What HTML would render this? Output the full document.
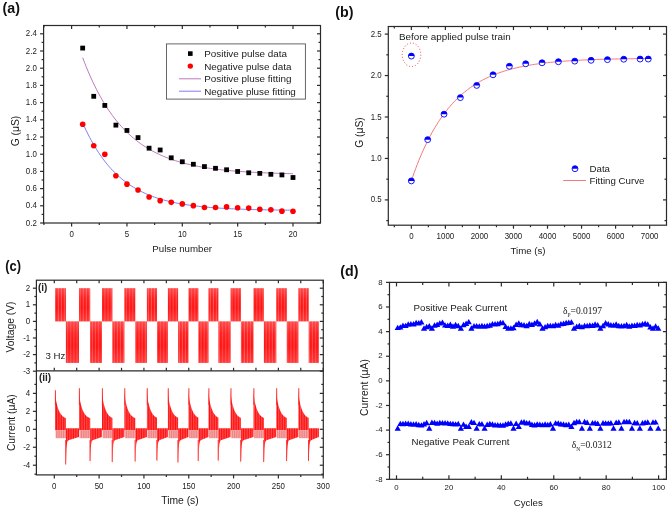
<!DOCTYPE html>
<html><head><meta charset="utf-8"><style>
html,body{margin:0;padding:0;background:#fff;}
body{width:669px;height:511px;overflow:hidden;}
svg{display:block;will-change:transform;filter:blur(0.3px);}

</style></head><body>
<svg width="669" height="511" viewBox="0 0 669 511">
<rect width="669" height="511" fill="#fff"/>
<text x="0" y="0" transform="translate(2.6,13.4) scale(0.95,1)" font-family="Liberation Sans" font-size="15" font-weight="bold" fill="#111">(a)</text>
<text x="0" y="0" transform="translate(335.3,16.8) scale(0.95,1)" font-family="Liberation Sans" font-size="15" font-weight="bold" fill="#111">(b)</text>
<text x="0" y="0" transform="translate(5.3,270.6) scale(0.86,1)" font-family="Liberation Sans" font-size="15" font-weight="bold" fill="#111">(c)</text>
<text x="0" y="0" transform="translate(340.3,276) scale(0.95,1)" font-family="Liberation Sans" font-size="15" font-weight="bold" fill="#111">(d)</text>
<rect x="43.6" y="25.5" width="276.9" height="197.5" fill="none" stroke="#2a2a2a" stroke-width="1.2"/>
<line x1="40.1" y1="223" x2="43.6" y2="223" stroke="#2a2a2a" stroke-width="1.2" />
<line x1="317" y1="223" x2="320.5" y2="223" stroke="#2a2a2a" stroke-width="1.2" />
<text x="0" y="0" transform="translate(36.8,225.5) scale(0.93,1)" font-family="Liberation Sans" font-size="8.5" font-weight="normal" text-anchor="end" fill="#1a1a1a" >0.2</text>
<line x1="41.6" y1="214.4" x2="43.6" y2="214.4" stroke="#2a2a2a" stroke-width="1.2" />
<line x1="318.5" y1="214.4" x2="320.5" y2="214.4" stroke="#2a2a2a" stroke-width="1.2" />
<line x1="40.1" y1="205.8" x2="43.6" y2="205.8" stroke="#2a2a2a" stroke-width="1.2" />
<line x1="317" y1="205.8" x2="320.5" y2="205.8" stroke="#2a2a2a" stroke-width="1.2" />
<text x="0" y="0" transform="translate(36.8,208.3) scale(0.93,1)" font-family="Liberation Sans" font-size="8.5" font-weight="normal" text-anchor="end" fill="#1a1a1a" >0.4</text>
<line x1="41.6" y1="197.2" x2="43.6" y2="197.2" stroke="#2a2a2a" stroke-width="1.2" />
<line x1="318.5" y1="197.2" x2="320.5" y2="197.2" stroke="#2a2a2a" stroke-width="1.2" />
<line x1="40.1" y1="188.6" x2="43.6" y2="188.6" stroke="#2a2a2a" stroke-width="1.2" />
<line x1="317" y1="188.6" x2="320.5" y2="188.6" stroke="#2a2a2a" stroke-width="1.2" />
<text x="0" y="0" transform="translate(36.8,191.1) scale(0.93,1)" font-family="Liberation Sans" font-size="8.5" font-weight="normal" text-anchor="end" fill="#1a1a1a" >0.6</text>
<line x1="41.6" y1="180" x2="43.6" y2="180" stroke="#2a2a2a" stroke-width="1.2" />
<line x1="318.5" y1="180" x2="320.5" y2="180" stroke="#2a2a2a" stroke-width="1.2" />
<line x1="40.1" y1="171.4" x2="43.6" y2="171.4" stroke="#2a2a2a" stroke-width="1.2" />
<line x1="317" y1="171.4" x2="320.5" y2="171.4" stroke="#2a2a2a" stroke-width="1.2" />
<text x="0" y="0" transform="translate(36.8,173.9) scale(0.93,1)" font-family="Liberation Sans" font-size="8.5" font-weight="normal" text-anchor="end" fill="#1a1a1a" >0.8</text>
<line x1="41.6" y1="162.8" x2="43.6" y2="162.8" stroke="#2a2a2a" stroke-width="1.2" />
<line x1="318.5" y1="162.8" x2="320.5" y2="162.8" stroke="#2a2a2a" stroke-width="1.2" />
<line x1="40.1" y1="154.2" x2="43.6" y2="154.2" stroke="#2a2a2a" stroke-width="1.2" />
<line x1="317" y1="154.2" x2="320.5" y2="154.2" stroke="#2a2a2a" stroke-width="1.2" />
<text x="0" y="0" transform="translate(36.8,156.7) scale(0.93,1)" font-family="Liberation Sans" font-size="8.5" font-weight="normal" text-anchor="end" fill="#1a1a1a" >1.0</text>
<line x1="41.6" y1="145.6" x2="43.6" y2="145.6" stroke="#2a2a2a" stroke-width="1.2" />
<line x1="318.5" y1="145.6" x2="320.5" y2="145.6" stroke="#2a2a2a" stroke-width="1.2" />
<line x1="40.1" y1="137" x2="43.6" y2="137" stroke="#2a2a2a" stroke-width="1.2" />
<line x1="317" y1="137" x2="320.5" y2="137" stroke="#2a2a2a" stroke-width="1.2" />
<text x="0" y="0" transform="translate(36.8,139.5) scale(0.93,1)" font-family="Liberation Sans" font-size="8.5" font-weight="normal" text-anchor="end" fill="#1a1a1a" >1.2</text>
<line x1="41.6" y1="128.4" x2="43.6" y2="128.4" stroke="#2a2a2a" stroke-width="1.2" />
<line x1="318.5" y1="128.4" x2="320.5" y2="128.4" stroke="#2a2a2a" stroke-width="1.2" />
<line x1="40.1" y1="119.8" x2="43.6" y2="119.8" stroke="#2a2a2a" stroke-width="1.2" />
<line x1="317" y1="119.8" x2="320.5" y2="119.8" stroke="#2a2a2a" stroke-width="1.2" />
<text x="0" y="0" transform="translate(36.8,122.3) scale(0.93,1)" font-family="Liberation Sans" font-size="8.5" font-weight="normal" text-anchor="end" fill="#1a1a1a" >1.4</text>
<line x1="41.6" y1="111.2" x2="43.6" y2="111.2" stroke="#2a2a2a" stroke-width="1.2" />
<line x1="318.5" y1="111.2" x2="320.5" y2="111.2" stroke="#2a2a2a" stroke-width="1.2" />
<line x1="40.1" y1="102.6" x2="43.6" y2="102.6" stroke="#2a2a2a" stroke-width="1.2" />
<line x1="317" y1="102.6" x2="320.5" y2="102.6" stroke="#2a2a2a" stroke-width="1.2" />
<text x="0" y="0" transform="translate(36.8,105.1) scale(0.93,1)" font-family="Liberation Sans" font-size="8.5" font-weight="normal" text-anchor="end" fill="#1a1a1a" >1.6</text>
<line x1="41.6" y1="94" x2="43.6" y2="94" stroke="#2a2a2a" stroke-width="1.2" />
<line x1="318.5" y1="94" x2="320.5" y2="94" stroke="#2a2a2a" stroke-width="1.2" />
<line x1="40.1" y1="85.4" x2="43.6" y2="85.4" stroke="#2a2a2a" stroke-width="1.2" />
<line x1="317" y1="85.4" x2="320.5" y2="85.4" stroke="#2a2a2a" stroke-width="1.2" />
<text x="0" y="0" transform="translate(36.8,87.9) scale(0.93,1)" font-family="Liberation Sans" font-size="8.5" font-weight="normal" text-anchor="end" fill="#1a1a1a" >1.8</text>
<line x1="41.6" y1="76.8" x2="43.6" y2="76.8" stroke="#2a2a2a" stroke-width="1.2" />
<line x1="318.5" y1="76.8" x2="320.5" y2="76.8" stroke="#2a2a2a" stroke-width="1.2" />
<line x1="40.1" y1="68.2" x2="43.6" y2="68.2" stroke="#2a2a2a" stroke-width="1.2" />
<line x1="317" y1="68.2" x2="320.5" y2="68.2" stroke="#2a2a2a" stroke-width="1.2" />
<text x="0" y="0" transform="translate(36.8,70.7) scale(0.93,1)" font-family="Liberation Sans" font-size="8.5" font-weight="normal" text-anchor="end" fill="#1a1a1a" >2.0</text>
<line x1="41.6" y1="59.6" x2="43.6" y2="59.6" stroke="#2a2a2a" stroke-width="1.2" />
<line x1="318.5" y1="59.6" x2="320.5" y2="59.6" stroke="#2a2a2a" stroke-width="1.2" />
<line x1="40.1" y1="51" x2="43.6" y2="51" stroke="#2a2a2a" stroke-width="1.2" />
<line x1="317" y1="51" x2="320.5" y2="51" stroke="#2a2a2a" stroke-width="1.2" />
<text x="0" y="0" transform="translate(36.8,53.5) scale(0.93,1)" font-family="Liberation Sans" font-size="8.5" font-weight="normal" text-anchor="end" fill="#1a1a1a" >2.2</text>
<line x1="41.6" y1="42.4" x2="43.6" y2="42.4" stroke="#2a2a2a" stroke-width="1.2" />
<line x1="318.5" y1="42.4" x2="320.5" y2="42.4" stroke="#2a2a2a" stroke-width="1.2" />
<line x1="40.1" y1="33.8" x2="43.6" y2="33.8" stroke="#2a2a2a" stroke-width="1.2" />
<line x1="317" y1="33.8" x2="320.5" y2="33.8" stroke="#2a2a2a" stroke-width="1.2" />
<text x="0" y="0" transform="translate(36.8,36.3) scale(0.93,1)" font-family="Liberation Sans" font-size="8.5" font-weight="normal" text-anchor="end" fill="#1a1a1a" >2.4</text>
<line x1="43.92" y1="223" x2="43.92" y2="225" stroke="#2a2a2a" stroke-width="1.2" />
<line x1="43.92" y1="25.5" x2="43.92" y2="27.5" stroke="#2a2a2a" stroke-width="1.2" />
<line x1="71.6" y1="223" x2="71.6" y2="226.5" stroke="#2a2a2a" stroke-width="1.2" />
<line x1="71.6" y1="25.5" x2="71.6" y2="29" stroke="#2a2a2a" stroke-width="1.2" />
<text x="0" y="0" transform="translate(71.6,236.5) scale(0.93,1)" font-family="Liberation Sans" font-size="8.5" font-weight="normal" text-anchor="middle" fill="#1a1a1a" >0</text>
<line x1="99.27" y1="223" x2="99.27" y2="225" stroke="#2a2a2a" stroke-width="1.2" />
<line x1="99.27" y1="25.5" x2="99.27" y2="27.5" stroke="#2a2a2a" stroke-width="1.2" />
<line x1="126.95" y1="223" x2="126.95" y2="226.5" stroke="#2a2a2a" stroke-width="1.2" />
<line x1="126.95" y1="25.5" x2="126.95" y2="29" stroke="#2a2a2a" stroke-width="1.2" />
<text x="0" y="0" transform="translate(126.95,236.5) scale(0.93,1)" font-family="Liberation Sans" font-size="8.5" font-weight="normal" text-anchor="middle" fill="#1a1a1a" >5</text>
<line x1="154.62" y1="223" x2="154.62" y2="225" stroke="#2a2a2a" stroke-width="1.2" />
<line x1="154.62" y1="25.5" x2="154.62" y2="27.5" stroke="#2a2a2a" stroke-width="1.2" />
<line x1="182.3" y1="223" x2="182.3" y2="226.5" stroke="#2a2a2a" stroke-width="1.2" />
<line x1="182.3" y1="25.5" x2="182.3" y2="29" stroke="#2a2a2a" stroke-width="1.2" />
<text x="0" y="0" transform="translate(182.3,236.5) scale(0.93,1)" font-family="Liberation Sans" font-size="8.5" font-weight="normal" text-anchor="middle" fill="#1a1a1a" >10</text>
<line x1="209.97" y1="223" x2="209.97" y2="225" stroke="#2a2a2a" stroke-width="1.2" />
<line x1="209.97" y1="25.5" x2="209.97" y2="27.5" stroke="#2a2a2a" stroke-width="1.2" />
<line x1="237.65" y1="223" x2="237.65" y2="226.5" stroke="#2a2a2a" stroke-width="1.2" />
<line x1="237.65" y1="25.5" x2="237.65" y2="29" stroke="#2a2a2a" stroke-width="1.2" />
<text x="0" y="0" transform="translate(237.65,236.5) scale(0.93,1)" font-family="Liberation Sans" font-size="8.5" font-weight="normal" text-anchor="middle" fill="#1a1a1a" >15</text>
<line x1="265.32" y1="223" x2="265.32" y2="225" stroke="#2a2a2a" stroke-width="1.2" />
<line x1="265.32" y1="25.5" x2="265.32" y2="27.5" stroke="#2a2a2a" stroke-width="1.2" />
<line x1="293" y1="223" x2="293" y2="226.5" stroke="#2a2a2a" stroke-width="1.2" />
<line x1="293" y1="25.5" x2="293" y2="29" stroke="#2a2a2a" stroke-width="1.2" />
<text x="0" y="0" transform="translate(293,236.5) scale(0.93,1)" font-family="Liberation Sans" font-size="8.5" font-weight="normal" text-anchor="middle" fill="#1a1a1a" >20</text>
<text x="182.2" y="251.6" font-family="Liberation Sans" font-size="9.7" font-weight="normal" text-anchor="middle" fill="#1a1a1a" >Pulse number</text>
<text x="0" y="0" transform="translate(18.71,131) rotate(-90)" font-family="Liberation Sans" font-size="10.3" text-anchor="middle" fill="#1a1a1a">G (&#956;S)</text>
<polyline points="82.67,57.64 84.42,62.25 86.18,66.68 87.93,70.93 89.68,75.01 91.43,78.94 93.19,82.71 94.94,86.33 96.69,89.81 98.44,93.15 100.2,96.36 101.95,99.44 103.7,102.4 105.46,105.25 107.21,107.98 108.96,110.61 110.71,113.13 112.47,115.55 114.22,117.88 115.97,120.11 117.72,122.26 119.48,124.33 121.23,126.31 122.98,128.21 124.74,130.04 126.49,131.8 128.24,133.48 129.99,135.1 131.75,136.66 133.5,138.16 135.25,139.59 137.01,140.97 138.76,142.3 140.51,143.57 142.26,144.8 144.02,145.97 145.77,147.1 147.52,148.19 149.27,149.23 151.03,150.23 152.78,151.19 154.53,152.11 156.29,153 158.04,153.85 159.79,154.67 161.54,155.46 163.3,156.22 165.05,156.94 166.8,157.64 168.55,158.31 170.31,158.95 172.06,159.57 173.81,160.16 175.57,160.73 177.32,161.28 179.07,161.81 180.82,162.31 182.58,162.8 184.33,163.26 186.08,163.71 187.83,164.14 189.59,164.56 191.34,164.95 193.09,165.33 194.85,165.7 196.6,166.05 198.35,166.39 200.1,166.72 201.86,167.03 203.61,167.33 205.36,167.62 207.12,167.89 208.87,168.16 210.62,168.41 212.37,168.66 214.13,168.89 215.88,169.12 217.63,169.34 219.38,169.55 221.14,169.75 222.89,169.94 224.64,170.13 226.4,170.3 228.15,170.47 229.9,170.64 231.65,170.8 233.41,170.95 235.16,171.09 236.91,171.23 238.66,171.37 240.42,171.5 242.17,171.62 243.92,171.74 245.68,171.85 247.43,171.96 249.18,172.07 250.93,172.17 252.69,172.27 254.44,172.36 256.19,172.45 257.95,172.54 259.7,172.62 261.45,172.7 263.2,172.78 264.96,172.85 266.71,172.92 268.46,172.99 270.21,173.05 271.97,173.11 273.72,173.17 275.47,173.23 277.23,173.29 278.98,173.34 280.73,173.39 282.48,173.44 284.24,173.49 285.99,173.53 287.74,173.58 289.49,173.62 291.25,173.66 293,173.7" fill="none" stroke="#b66ab6" stroke-width="0.9"/>
<polyline points="82.67,122.76 84.42,126.69 86.18,130.44 87.93,134.02 89.68,137.45 91.43,140.72 93.19,143.84 94.94,146.83 96.69,149.68 98.44,152.4 100.2,155 101.95,157.49 103.7,159.86 105.46,162.13 107.21,164.3 108.96,166.37 110.71,168.35 112.47,170.24 114.22,172.04 115.97,173.76 117.72,175.41 119.48,176.98 121.23,178.49 122.98,179.92 124.74,181.29 126.49,182.6 128.24,183.85 129.99,185.05 131.75,186.19 133.5,187.28 135.25,188.32 137.01,189.32 138.76,190.27 140.51,191.18 142.26,192.05 144.02,192.87 145.77,193.67 147.52,194.42 149.27,195.14 151.03,195.84 152.78,196.49 154.53,197.12 156.29,197.73 158.04,198.3 159.79,198.85 161.54,199.37 163.3,199.88 165.05,200.35 166.8,200.81 168.55,201.25 170.31,201.67 172.06,202.06 173.81,202.44 175.57,202.81 177.32,203.16 179.07,203.49 180.82,203.8 182.58,204.11 184.33,204.4 186.08,204.67 187.83,204.94 189.59,205.19 191.34,205.43 193.09,205.66 194.85,205.88 196.6,206.09 198.35,206.29 200.1,206.48 201.86,206.67 203.61,206.84 205.36,207.01 207.12,207.17 208.87,207.32 210.62,207.47 212.37,207.61 214.13,207.74 215.88,207.87 217.63,207.99 219.38,208.1 221.14,208.21 222.89,208.32 224.64,208.42 226.4,208.52 228.15,208.61 229.9,208.7 231.65,208.78 233.41,208.86 235.16,208.94 236.91,209.01 238.66,209.08 240.42,209.15 242.17,209.21 243.92,209.27 245.68,209.33 247.43,209.39 249.18,209.44 250.93,209.49 252.69,209.54 254.44,209.59 256.19,209.63 257.95,209.67 259.7,209.71 261.45,209.75 263.2,209.79 264.96,209.82 266.71,209.86 268.46,209.89 270.21,209.92 271.97,209.95 273.72,209.98 275.47,210 277.23,210.03 278.98,210.05 280.73,210.08 282.48,210.1 284.24,210.12 285.99,210.14 287.74,210.16 289.49,210.18 291.25,210.2 293,210.21" fill="none" stroke="#7070f0" stroke-width="0.9"/>
<rect x="80.27" y="45.68" width="4.8" height="4.8" fill="#000"/>
<rect x="91.34" y="93.92" width="4.8" height="4.8" fill="#000"/>
<rect x="102.41" y="103.04" width="4.8" height="4.8" fill="#000"/>
<rect x="113.48" y="122.73" width="4.8" height="4.8" fill="#000"/>
<rect x="124.55" y="128.06" width="4.8" height="4.8" fill="#000"/>
<rect x="135.62" y="135.2" width="4.8" height="4.8" fill="#000"/>
<rect x="146.69" y="145.78" width="4.8" height="4.8" fill="#000"/>
<rect x="157.76" y="147.59" width="4.8" height="4.8" fill="#000"/>
<rect x="168.83" y="155.41" width="4.8" height="4.8" fill="#000"/>
<rect x="179.9" y="159.37" width="4.8" height="4.8" fill="#000"/>
<rect x="190.97" y="161.86" width="4.8" height="4.8" fill="#000"/>
<rect x="202.04" y="164.18" width="4.8" height="4.8" fill="#000"/>
<rect x="213.11" y="165.9" width="4.8" height="4.8" fill="#000"/>
<rect x="224.18" y="167.37" width="4.8" height="4.8" fill="#000"/>
<rect x="235.25" y="169.09" width="4.8" height="4.8" fill="#000"/>
<rect x="246.32" y="170.38" width="4.8" height="4.8" fill="#000"/>
<rect x="257.39" y="170.98" width="4.8" height="4.8" fill="#000"/>
<rect x="268.46" y="171.92" width="4.8" height="4.8" fill="#000"/>
<rect x="279.53" y="172.53" width="4.8" height="4.8" fill="#000"/>
<rect x="290.6" y="175.11" width="4.8" height="4.8" fill="#000"/>
<circle cx="82.67" cy="124.19" r="2.8" fill="#f00"/>
<circle cx="93.74" cy="145.77" r="2.8" fill="#f00"/>
<circle cx="104.81" cy="154.29" r="2.8" fill="#f00"/>
<circle cx="115.88" cy="175.7" r="2.8" fill="#f00"/>
<circle cx="126.95" cy="184.13" r="2.8" fill="#f00"/>
<circle cx="138.02" cy="189.98" r="2.8" fill="#f00"/>
<circle cx="149.09" cy="197.03" r="2.8" fill="#f00"/>
<circle cx="160.16" cy="200.64" r="2.8" fill="#f00"/>
<circle cx="171.23" cy="202.36" r="2.8" fill="#f00"/>
<circle cx="182.3" cy="203.91" r="2.8" fill="#f00"/>
<circle cx="193.37" cy="205.63" r="2.8" fill="#f00"/>
<circle cx="204.44" cy="207.43" r="2.8" fill="#f00"/>
<circle cx="215.51" cy="207.43" r="2.8" fill="#f00"/>
<circle cx="226.58" cy="206.92" r="2.8" fill="#f00"/>
<circle cx="237.65" cy="207.69" r="2.8" fill="#f00"/>
<circle cx="248.72" cy="208.12" r="2.8" fill="#f00"/>
<circle cx="259.79" cy="209.24" r="2.8" fill="#f00"/>
<circle cx="270.86" cy="209.84" r="2.8" fill="#f00"/>
<circle cx="281.93" cy="211.13" r="2.8" fill="#f00"/>
<circle cx="293" cy="211.3" r="2.8" fill="#f00"/>
<rect x="166.5" y="43.9" width="138.9" height="55.2" fill="#fff" stroke="#555" stroke-width="0.9"/>
<rect x="188" y="51.3" width="4.6" height="4.6" fill="#000"/>
<circle cx="190.3" cy="66.1" r="2.7" fill="#f00"/>
<line x1="179" y1="78.8" x2="201" y2="78.8" stroke="#b66ab6" stroke-width="0.9" />
<line x1="179" y1="91.2" x2="201" y2="91.2" stroke="#7070f0" stroke-width="0.9" />
<text x="204.2" y="57.2" font-family="Liberation Sans" font-size="9.9" font-weight="normal" text-anchor="start" fill="#1a1a1a" >Positive pulse data</text>
<text x="204.2" y="69.6" font-family="Liberation Sans" font-size="9.9" font-weight="normal" text-anchor="start" fill="#1a1a1a" >Negative pulse data</text>
<text x="204.2" y="82.3" font-family="Liberation Sans" font-size="9.9" font-weight="normal" text-anchor="start" fill="#1a1a1a" >Positive pluse fitting</text>
<text x="204.2" y="94.7" font-family="Liberation Sans" font-size="9.9" font-weight="normal" text-anchor="start" fill="#1a1a1a" >Negative pluse fitting</text>
<rect x="388.3" y="26.5" width="278.2" height="198.7" fill="none" stroke="#2a2a2a" stroke-width="1.2"/>
<line x1="386.3" y1="220.62" x2="388.3" y2="220.62" stroke="#2a2a2a" stroke-width="1.2" />
<line x1="664.5" y1="220.62" x2="666.5" y2="220.62" stroke="#2a2a2a" stroke-width="1.2" />
<line x1="384.8" y1="199.9" x2="388.3" y2="199.9" stroke="#2a2a2a" stroke-width="1.2" />
<line x1="663" y1="199.9" x2="666.5" y2="199.9" stroke="#2a2a2a" stroke-width="1.2" />
<text x="0" y="0" transform="translate(381.7,202.4) scale(0.93,1)" font-family="Liberation Sans" font-size="8.5" font-weight="normal" text-anchor="end" fill="#1a1a1a" >0.5</text>
<line x1="386.3" y1="179.18" x2="388.3" y2="179.18" stroke="#2a2a2a" stroke-width="1.2" />
<line x1="664.5" y1="179.18" x2="666.5" y2="179.18" stroke="#2a2a2a" stroke-width="1.2" />
<line x1="384.8" y1="158.45" x2="388.3" y2="158.45" stroke="#2a2a2a" stroke-width="1.2" />
<line x1="663" y1="158.45" x2="666.5" y2="158.45" stroke="#2a2a2a" stroke-width="1.2" />
<text x="0" y="0" transform="translate(381.7,160.95) scale(0.93,1)" font-family="Liberation Sans" font-size="8.5" font-weight="normal" text-anchor="end" fill="#1a1a1a" >1.0</text>
<line x1="386.3" y1="137.72" x2="388.3" y2="137.72" stroke="#2a2a2a" stroke-width="1.2" />
<line x1="664.5" y1="137.72" x2="666.5" y2="137.72" stroke="#2a2a2a" stroke-width="1.2" />
<line x1="384.8" y1="117" x2="388.3" y2="117" stroke="#2a2a2a" stroke-width="1.2" />
<line x1="663" y1="117" x2="666.5" y2="117" stroke="#2a2a2a" stroke-width="1.2" />
<text x="0" y="0" transform="translate(381.7,119.5) scale(0.93,1)" font-family="Liberation Sans" font-size="8.5" font-weight="normal" text-anchor="end" fill="#1a1a1a" >1.5</text>
<line x1="386.3" y1="96.28" x2="388.3" y2="96.28" stroke="#2a2a2a" stroke-width="1.2" />
<line x1="664.5" y1="96.28" x2="666.5" y2="96.28" stroke="#2a2a2a" stroke-width="1.2" />
<line x1="384.8" y1="75.55" x2="388.3" y2="75.55" stroke="#2a2a2a" stroke-width="1.2" />
<line x1="663" y1="75.55" x2="666.5" y2="75.55" stroke="#2a2a2a" stroke-width="1.2" />
<text x="0" y="0" transform="translate(381.7,78.05) scale(0.93,1)" font-family="Liberation Sans" font-size="8.5" font-weight="normal" text-anchor="end" fill="#1a1a1a" >2.0</text>
<line x1="386.3" y1="54.82" x2="388.3" y2="54.82" stroke="#2a2a2a" stroke-width="1.2" />
<line x1="664.5" y1="54.82" x2="666.5" y2="54.82" stroke="#2a2a2a" stroke-width="1.2" />
<line x1="384.8" y1="34.1" x2="388.3" y2="34.1" stroke="#2a2a2a" stroke-width="1.2" />
<line x1="663" y1="34.1" x2="666.5" y2="34.1" stroke="#2a2a2a" stroke-width="1.2" />
<text x="0" y="0" transform="translate(381.7,36.6) scale(0.93,1)" font-family="Liberation Sans" font-size="8.5" font-weight="normal" text-anchor="end" fill="#1a1a1a" >2.5</text>
<line x1="394.33" y1="225.2" x2="394.33" y2="227.2" stroke="#2a2a2a" stroke-width="1.2" />
<line x1="394.33" y1="26.5" x2="394.33" y2="28.5" stroke="#2a2a2a" stroke-width="1.2" />
<line x1="411.35" y1="225.2" x2="411.35" y2="228.7" stroke="#2a2a2a" stroke-width="1.2" />
<line x1="411.35" y1="26.5" x2="411.35" y2="30" stroke="#2a2a2a" stroke-width="1.2" />
<text x="0" y="0" transform="translate(411.35,238.8) scale(0.93,1)" font-family="Liberation Sans" font-size="8.5" font-weight="normal" text-anchor="middle" fill="#1a1a1a" >0</text>
<line x1="428.37" y1="225.2" x2="428.37" y2="227.2" stroke="#2a2a2a" stroke-width="1.2" />
<line x1="428.37" y1="26.5" x2="428.37" y2="28.5" stroke="#2a2a2a" stroke-width="1.2" />
<line x1="445.39" y1="225.2" x2="445.39" y2="228.7" stroke="#2a2a2a" stroke-width="1.2" />
<line x1="445.39" y1="26.5" x2="445.39" y2="30" stroke="#2a2a2a" stroke-width="1.2" />
<text x="0" y="0" transform="translate(445.39,238.8) scale(0.93,1)" font-family="Liberation Sans" font-size="8.5" font-weight="normal" text-anchor="middle" fill="#1a1a1a" >1000</text>
<line x1="462.41" y1="225.2" x2="462.41" y2="227.2" stroke="#2a2a2a" stroke-width="1.2" />
<line x1="462.41" y1="26.5" x2="462.41" y2="28.5" stroke="#2a2a2a" stroke-width="1.2" />
<line x1="479.43" y1="225.2" x2="479.43" y2="228.7" stroke="#2a2a2a" stroke-width="1.2" />
<line x1="479.43" y1="26.5" x2="479.43" y2="30" stroke="#2a2a2a" stroke-width="1.2" />
<text x="0" y="0" transform="translate(479.43,238.8) scale(0.93,1)" font-family="Liberation Sans" font-size="8.5" font-weight="normal" text-anchor="middle" fill="#1a1a1a" >2000</text>
<line x1="496.45" y1="225.2" x2="496.45" y2="227.2" stroke="#2a2a2a" stroke-width="1.2" />
<line x1="496.45" y1="26.5" x2="496.45" y2="28.5" stroke="#2a2a2a" stroke-width="1.2" />
<line x1="513.47" y1="225.2" x2="513.47" y2="228.7" stroke="#2a2a2a" stroke-width="1.2" />
<line x1="513.47" y1="26.5" x2="513.47" y2="30" stroke="#2a2a2a" stroke-width="1.2" />
<text x="0" y="0" transform="translate(513.47,238.8) scale(0.93,1)" font-family="Liberation Sans" font-size="8.5" font-weight="normal" text-anchor="middle" fill="#1a1a1a" >3000</text>
<line x1="530.49" y1="225.2" x2="530.49" y2="227.2" stroke="#2a2a2a" stroke-width="1.2" />
<line x1="530.49" y1="26.5" x2="530.49" y2="28.5" stroke="#2a2a2a" stroke-width="1.2" />
<line x1="547.51" y1="225.2" x2="547.51" y2="228.7" stroke="#2a2a2a" stroke-width="1.2" />
<line x1="547.51" y1="26.5" x2="547.51" y2="30" stroke="#2a2a2a" stroke-width="1.2" />
<text x="0" y="0" transform="translate(547.51,238.8) scale(0.93,1)" font-family="Liberation Sans" font-size="8.5" font-weight="normal" text-anchor="middle" fill="#1a1a1a" >4000</text>
<line x1="564.53" y1="225.2" x2="564.53" y2="227.2" stroke="#2a2a2a" stroke-width="1.2" />
<line x1="564.53" y1="26.5" x2="564.53" y2="28.5" stroke="#2a2a2a" stroke-width="1.2" />
<line x1="581.55" y1="225.2" x2="581.55" y2="228.7" stroke="#2a2a2a" stroke-width="1.2" />
<line x1="581.55" y1="26.5" x2="581.55" y2="30" stroke="#2a2a2a" stroke-width="1.2" />
<text x="0" y="0" transform="translate(581.55,238.8) scale(0.93,1)" font-family="Liberation Sans" font-size="8.5" font-weight="normal" text-anchor="middle" fill="#1a1a1a" >5000</text>
<line x1="598.57" y1="225.2" x2="598.57" y2="227.2" stroke="#2a2a2a" stroke-width="1.2" />
<line x1="598.57" y1="26.5" x2="598.57" y2="28.5" stroke="#2a2a2a" stroke-width="1.2" />
<line x1="615.59" y1="225.2" x2="615.59" y2="228.7" stroke="#2a2a2a" stroke-width="1.2" />
<line x1="615.59" y1="26.5" x2="615.59" y2="30" stroke="#2a2a2a" stroke-width="1.2" />
<text x="0" y="0" transform="translate(615.59,238.8) scale(0.93,1)" font-family="Liberation Sans" font-size="8.5" font-weight="normal" text-anchor="middle" fill="#1a1a1a" >6000</text>
<line x1="632.61" y1="225.2" x2="632.61" y2="227.2" stroke="#2a2a2a" stroke-width="1.2" />
<line x1="632.61" y1="26.5" x2="632.61" y2="28.5" stroke="#2a2a2a" stroke-width="1.2" />
<line x1="649.63" y1="225.2" x2="649.63" y2="228.7" stroke="#2a2a2a" stroke-width="1.2" />
<line x1="649.63" y1="26.5" x2="649.63" y2="30" stroke="#2a2a2a" stroke-width="1.2" />
<text x="0" y="0" transform="translate(649.63,238.8) scale(0.93,1)" font-family="Liberation Sans" font-size="8.5" font-weight="normal" text-anchor="middle" fill="#1a1a1a" >7000</text>
<text x="528" y="254.3" font-family="Liberation Sans" font-size="9.7" font-weight="normal" text-anchor="middle" fill="#1a1a1a" >Time (s)</text>
<text x="0" y="0" transform="translate(362.51,132.5) rotate(-90)" font-family="Liberation Sans" font-size="10.3" text-anchor="middle" fill="#1a1a1a">G (&#956;S)</text>
<polyline points="411.35,180.78 412.83,176.47 414.31,172.32 415.79,168.31 417.27,164.44 418.75,160.71 420.23,157.1 421.72,153.63 423.2,150.28 424.68,147.04 426.16,143.92 427.64,140.91 429.12,138 430.6,135.19 432.08,132.49 433.56,129.88 435.04,127.36 436.52,124.93 438,122.58 439.48,120.32 440.96,118.13 442.45,116.03 443.93,113.99 445.41,112.03 446.89,110.14 448.37,108.31 449.85,106.55 451.33,104.85 452.81,103.21 454.29,101.62 455.77,100.1 457.25,98.62 458.73,97.2 460.21,95.83 461.7,94.5 463.18,93.22 464.66,91.99 466.14,90.8 467.62,89.65 469.1,88.55 470.58,87.48 472.06,86.45 473.54,85.45 475.02,84.49 476.5,83.56 477.98,82.67 479.46,81.81 480.94,80.98 482.43,80.17 483.91,79.4 485.39,78.65 486.87,77.93 488.35,77.23 489.83,76.56 491.31,75.91 492.79,75.29 494.27,74.68 495.75,74.1 497.23,73.54 498.71,73 500.19,72.48 501.68,71.97 503.16,71.48 504.64,71.01 506.12,70.56 507.6,70.12 509.08,69.7 510.56,69.29 512.04,68.9 513.52,68.52 515,68.16 516.48,67.8 517.96,67.46 519.44,67.13 520.92,66.82 522.41,66.51 523.89,66.21 525.37,65.93 526.85,65.65 528.33,65.39 529.81,65.13 531.29,64.89 532.77,64.65 534.25,64.42 535.73,64.2 537.21,63.98 538.69,63.78 540.17,63.58 541.66,63.38 543.14,63.2 544.62,63.02 546.1,62.85 547.58,62.68 549.06,62.52 550.54,62.36 552.02,62.21 553.5,62.07 554.98,61.93 556.46,61.8 557.94,61.67 559.42,61.54 560.9,61.42 562.39,61.3 563.87,61.19 565.35,61.08 566.83,60.98 568.31,60.88 569.79,60.78 571.27,60.69 572.75,60.59 574.23,60.51 575.71,60.42 577.19,60.34 578.67,60.26 580.15,60.19 581.64,60.11 583.12,60.04 584.6,59.97 586.08,59.91 587.56,59.84 589.04,59.78 590.52,59.72 592,59.67 593.48,59.61 594.96,59.56 596.44,59.51 597.92,59.46 599.4,59.41 600.88,59.36 602.37,59.32 603.85,59.28 605.33,59.24 606.81,59.2 608.29,59.16 609.77,59.12 611.25,59.08 612.73,59.05 614.21,59.02 615.69,58.98 617.17,58.95 618.65,58.92 620.13,58.89 621.62,58.87 623.1,58.84 624.58,58.81 626.06,58.79 627.54,58.76 629.02,58.74 630.5,58.72 631.98,58.7 633.46,58.68 634.94,58.65 636.42,58.64 637.9,58.62 639.38,58.6 640.86,58.58 642.35,58.56 643.83,58.55 645.31,58.53 646.79,58.52 648.27,58.5" fill="none" stroke="#f26a6a" stroke-width="0.9"/>
<circle cx="411.35" cy="180.92" r="2.95" fill="#fff" stroke="#00f" stroke-width="0.9"/>
<path d="M408.4,180.92 A2.95,2.95 0 0 1 414.3,180.92 Z" fill="#00f"/>
<circle cx="427.69" cy="139.63" r="2.95" fill="#fff" stroke="#00f" stroke-width="0.9"/>
<path d="M424.74,139.63 A2.95,2.95 0 0 1 430.64,139.63 Z" fill="#00f"/>
<circle cx="444.03" cy="114.18" r="2.95" fill="#fff" stroke="#00f" stroke-width="0.9"/>
<path d="M441.08,114.18 A2.95,2.95 0 0 1 446.98,114.18 Z" fill="#00f"/>
<circle cx="460.37" cy="97.6" r="2.95" fill="#fff" stroke="#00f" stroke-width="0.9"/>
<path d="M457.42,97.6 A2.95,2.95 0 0 1 463.32,97.6 Z" fill="#00f"/>
<circle cx="476.71" cy="85.42" r="2.95" fill="#fff" stroke="#00f" stroke-width="0.9"/>
<path d="M473.76,85.42 A2.95,2.95 0 0 1 479.66,85.42 Z" fill="#00f"/>
<circle cx="493.05" cy="74.8" r="2.95" fill="#fff" stroke="#00f" stroke-width="0.9"/>
<path d="M490.1,74.8 A2.95,2.95 0 0 1 496,74.8 Z" fill="#00f"/>
<circle cx="509.39" cy="66.27" r="2.95" fill="#fff" stroke="#00f" stroke-width="0.9"/>
<path d="M506.44,66.27 A2.95,2.95 0 0 1 512.34,66.27 Z" fill="#00f"/>
<circle cx="525.72" cy="63.78" r="2.95" fill="#fff" stroke="#00f" stroke-width="0.9"/>
<path d="M522.77,63.78 A2.95,2.95 0 0 1 528.67,63.78 Z" fill="#00f"/>
<circle cx="542.06" cy="62.78" r="2.95" fill="#fff" stroke="#00f" stroke-width="0.9"/>
<path d="M539.11,62.78 A2.95,2.95 0 0 1 545.01,62.78 Z" fill="#00f"/>
<circle cx="558.4" cy="61.71" r="2.95" fill="#fff" stroke="#00f" stroke-width="0.9"/>
<path d="M555.45,61.71 A2.95,2.95 0 0 1 561.35,61.71 Z" fill="#00f"/>
<circle cx="574.74" cy="61.13" r="2.95" fill="#fff" stroke="#00f" stroke-width="0.9"/>
<path d="M571.79,61.13 A2.95,2.95 0 0 1 577.69,61.13 Z" fill="#00f"/>
<circle cx="591.08" cy="60.3" r="2.95" fill="#fff" stroke="#00f" stroke-width="0.9"/>
<path d="M588.13,60.3 A2.95,2.95 0 0 1 594.03,60.3 Z" fill="#00f"/>
<circle cx="607.42" cy="59.63" r="2.95" fill="#fff" stroke="#00f" stroke-width="0.9"/>
<path d="M604.47,59.63 A2.95,2.95 0 0 1 610.37,59.63 Z" fill="#00f"/>
<circle cx="623.76" cy="59.22" r="2.95" fill="#fff" stroke="#00f" stroke-width="0.9"/>
<path d="M620.81,59.22 A2.95,2.95 0 0 1 626.71,59.22 Z" fill="#00f"/>
<circle cx="640.1" cy="59.05" r="2.95" fill="#fff" stroke="#00f" stroke-width="0.9"/>
<path d="M637.15,59.05 A2.95,2.95 0 0 1 643.05,59.05 Z" fill="#00f"/>
<circle cx="648.27" cy="59.05" r="2.95" fill="#fff" stroke="#00f" stroke-width="0.9"/>
<path d="M645.32,59.05 A2.95,2.95 0 0 1 651.22,59.05 Z" fill="#00f"/>
<circle cx="411.35" cy="56.07" r="2.95" fill="#fff" stroke="#00f" stroke-width="0.9"/>
<path d="M408.4,56.07 A2.95,2.95 0 0 1 414.3,56.07 Z" fill="#00f"/>
<ellipse cx="411.5" cy="54.8" rx="9.3" ry="11.8" fill="none" stroke="#f04040" stroke-width="1" stroke-dasharray="1,2"/>
<text x="399" y="40.3" font-family="Liberation Sans" font-size="9.85" font-weight="normal" text-anchor="start" fill="#1a1a1a" >Before applied pulse train</text>
<circle cx="575" cy="168.7" r="2.95" fill="#fff" stroke="#00f" stroke-width="0.9"/>
<path d="M572.05,168.7 A2.95,2.95 0 0 1 577.95,168.7 Z" fill="#00f"/>
<line x1="563.2" y1="180.5" x2="585.9" y2="180.5" stroke="#f26a6a" stroke-width="0.9" />
<text x="589.5" y="171.5" font-family="Liberation Sans" font-size="9.7" font-weight="normal" text-anchor="start" fill="#1a1a1a" >Data</text>
<text x="589.5" y="183.8" font-family="Liberation Sans" font-size="9.7" font-weight="normal" text-anchor="start" fill="#1a1a1a" >Fitting Curve</text>
<defs>
<pattern id="stripe" x="0" y="0" width="3.1" height="10" patternUnits="userSpaceOnUse">
<rect x="0" y="0" width="3.1" height="10" fill="#ff1414"/>
<rect x="2.2" y="0" width="0.6" height="10" fill="#ff7070"/>
</pattern>
<linearGradient id="vgrad" x1="0" y1="0" x2="0" y2="1">
<stop offset="0" stop-color="#fff" stop-opacity="0.22"/>
<stop offset="0.3" stop-color="#fff" stop-opacity="0.05"/>
<stop offset="0.6" stop-color="#fff" stop-opacity="0"/>
<stop offset="1" stop-color="#fff" stop-opacity="0.15"/>
</linearGradient>
<pattern id="stripe3" x="0" y="0" width="1.8" height="10" patternUnits="userSpaceOnUse">
<rect x="0" y="0" width="1.8" height="10" fill="#f08080"/>
<rect x="1.1" y="0" width="0.7" height="10" fill="#f6b4b4"/>
</pattern>
<pattern id="stripe2" x="0" y="0" width="1.7" height="10" patternUnits="userSpaceOnUse">
<rect x="0" y="0" width="1.7" height="10" fill="#ff0d0d"/>
<rect x="1.1" y="0" width="0.6" height="10" fill="#ff6a6a"/>
</pattern>
</defs>
<rect x="55" y="288.2" width="10.9" height="33.2" fill="url(#stripe)"/>
<rect x="65.9" y="321.4" width="13.1" height="41.5" fill="url(#stripe)"/>
<rect x="55" y="288.2" width="10.9" height="33.2" fill="url(#vgrad)"/>
<rect x="65.9" y="321.4" width="13.1" height="41.5" fill="url(#vgrad)"/>
<rect x="79" y="288.2" width="11.2" height="33.2" fill="url(#stripe)"/>
<rect x="90.2" y="321.4" width="11.8" height="41.5" fill="url(#stripe)"/>
<rect x="79" y="288.2" width="11.2" height="33.2" fill="url(#vgrad)"/>
<rect x="90.2" y="321.4" width="11.8" height="41.5" fill="url(#vgrad)"/>
<rect x="102" y="288.2" width="10.4" height="33.2" fill="url(#stripe)"/>
<rect x="112.4" y="321.4" width="12" height="41.5" fill="url(#stripe)"/>
<rect x="102" y="288.2" width="10.4" height="33.2" fill="url(#vgrad)"/>
<rect x="112.4" y="321.4" width="12" height="41.5" fill="url(#vgrad)"/>
<rect x="124.4" y="288.2" width="10.9" height="33.2" fill="url(#stripe)"/>
<rect x="135.3" y="321.4" width="11.6" height="41.5" fill="url(#stripe)"/>
<rect x="124.4" y="288.2" width="10.9" height="33.2" fill="url(#vgrad)"/>
<rect x="135.3" y="321.4" width="11.6" height="41.5" fill="url(#vgrad)"/>
<rect x="146.9" y="288.2" width="10.1" height="33.2" fill="url(#stripe)"/>
<rect x="157" y="321.4" width="10.9" height="41.5" fill="url(#stripe)"/>
<rect x="146.9" y="288.2" width="10.1" height="33.2" fill="url(#vgrad)"/>
<rect x="157" y="321.4" width="10.9" height="41.5" fill="url(#vgrad)"/>
<rect x="167.9" y="288.2" width="10.2" height="33.2" fill="url(#stripe)"/>
<rect x="178.1" y="321.4" width="10.4" height="41.5" fill="url(#stripe)"/>
<rect x="167.9" y="288.2" width="10.2" height="33.2" fill="url(#vgrad)"/>
<rect x="178.1" y="321.4" width="10.4" height="41.5" fill="url(#vgrad)"/>
<rect x="188.5" y="288.2" width="9.9" height="33.2" fill="url(#stripe)"/>
<rect x="198.4" y="321.4" width="10.1" height="41.5" fill="url(#stripe)"/>
<rect x="188.5" y="288.2" width="9.9" height="33.2" fill="url(#vgrad)"/>
<rect x="198.4" y="321.4" width="10.1" height="41.5" fill="url(#vgrad)"/>
<rect x="208.5" y="288.2" width="9.9" height="33.2" fill="url(#stripe)"/>
<rect x="218.4" y="321.4" width="12.2" height="41.5" fill="url(#stripe)"/>
<rect x="208.5" y="288.2" width="9.9" height="33.2" fill="url(#vgrad)"/>
<rect x="218.4" y="321.4" width="12.2" height="41.5" fill="url(#vgrad)"/>
<rect x="230.6" y="288.2" width="10.3" height="33.2" fill="url(#stripe)"/>
<rect x="240.9" y="321.4" width="12.6" height="41.5" fill="url(#stripe)"/>
<rect x="230.6" y="288.2" width="10.3" height="33.2" fill="url(#vgrad)"/>
<rect x="240.9" y="321.4" width="12.6" height="41.5" fill="url(#vgrad)"/>
<rect x="253.5" y="288.2" width="10.4" height="33.2" fill="url(#stripe)"/>
<rect x="263.9" y="321.4" width="12.4" height="41.5" fill="url(#stripe)"/>
<rect x="253.5" y="288.2" width="10.4" height="33.2" fill="url(#vgrad)"/>
<rect x="263.9" y="321.4" width="12.4" height="41.5" fill="url(#vgrad)"/>
<rect x="276.3" y="288.2" width="10.5" height="33.2" fill="url(#stripe)"/>
<rect x="286.8" y="321.4" width="11.6" height="41.5" fill="url(#stripe)"/>
<rect x="276.3" y="288.2" width="10.5" height="33.2" fill="url(#vgrad)"/>
<rect x="286.8" y="321.4" width="11.6" height="41.5" fill="url(#vgrad)"/>
<rect x="298.4" y="288.2" width="10.3" height="33.2" fill="url(#stripe)"/>
<rect x="308.7" y="321.4" width="10.2" height="41.5" fill="url(#stripe)"/>
<rect x="298.4" y="288.2" width="10.3" height="33.2" fill="url(#vgrad)"/>
<rect x="308.7" y="321.4" width="10.2" height="41.5" fill="url(#vgrad)"/>
<polygon points="55,388.5 55.45,396 55.91,399.52 56.36,401.97 56.82,403.99 57.27,405.74 57.73,407.3 58.18,408.67 58.63,409.89 59.09,410.97 59.54,411.93 60,412.79 60.45,413.54 60.9,414.21 61.36,414.81 61.81,415.34 62.27,415.81 62.72,416.22 63.18,416.59 63.63,416.92 64.08,417.21 64.54,417.47 64.99,417.7 65.45,417.9 65.9,418.08 65.9,430.2 55,430.2" fill="url(#stripe2)"/>
<rect x="55.6" y="430.2" width="10.3" height="8.0" fill="url(#stripe3)"/>
<polygon points="65.9,428.3 79,428.3 79,437 78.45,437.17 77.91,437.33 77.36,437.5 76.82,437.67 76.27,437.83 75.72,438 75.18,438.17 74.63,438.33 74.09,438.5 73.54,438.67 73,438.83 72.45,439 71.9,439.17 71.36,439.33 70.81,439.5 70.27,439.67 69.72,439.84 69.18,440.03 68.63,440.27 68.08,440.64 67.54,441.41 66.99,443.37 66.45,448.89 65.9,465" fill="url(#stripe2)"/>
<line x1="55.4" y1="390.3" x2="55.4" y2="405" stroke="#ff2020" stroke-width="0.9" />
<line x1="65.7" y1="440" x2="65.7" y2="464.5" stroke="#ff2020" stroke-width="0.9" />
<polygon points="79,388.5 79.47,396.12 79.93,399.68 80.4,402.15 80.87,404.19 81.33,405.97 81.8,407.53 82.27,408.92 82.73,410.14 83.2,411.22 83.67,412.18 84.13,413.02 84.6,413.77 85.07,414.43 85.53,415.02 86,415.54 86.47,416 86.93,416.4 87.4,416.76 87.87,417.08 88.33,417.36 88.8,417.6 89.27,417.82 89.73,418.02 90.2,418.19 90.2,430.2 79,430.2" fill="url(#stripe2)"/>
<rect x="79.6" y="430.2" width="10.6" height="8.0" fill="url(#stripe3)"/>
<polygon points="90.2,428.3 102,428.3 102,437 101.51,437.17 101.02,437.33 100.53,437.5 100.03,437.67 99.54,437.83 99.05,438 98.56,438.17 98.07,438.33 97.58,438.5 97.08,438.67 96.59,438.83 96.1,439 95.61,439.17 95.12,439.33 94.62,439.5 94.13,439.68 93.64,439.86 93.15,440.07 92.66,440.34 92.17,440.8 91.67,441.76 91.18,444.02 90.69,449.81 90.2,465" fill="url(#stripe2)"/>
<line x1="79.4" y1="388.2" x2="79.4" y2="405" stroke="#ff2020" stroke-width="0.9" />
<line x1="90" y1="440" x2="90" y2="461" stroke="#ff2020" stroke-width="0.9" />
<polygon points="102,388.5 102.43,395.78 102.87,399.26 103.3,401.66 103.73,403.64 104.17,405.36 104.6,406.89 105.03,408.25 105.47,409.46 105.9,410.54 106.33,411.51 106.77,412.37 107.2,413.14 107.63,413.82 108.07,414.43 108.5,414.98 108.93,415.47 109.37,415.9 109.8,416.29 110.23,416.64 110.67,416.94 111.1,417.22 111.53,417.47 111.97,417.69 112.4,417.88 112.4,430.2 102,430.2" fill="url(#stripe2)"/>
<rect x="102.6" y="430.2" width="9.8" height="8.0" fill="url(#stripe3)"/>
<polygon points="112.4,428.3 124.4,428.3 124.4,437 123.9,437.17 123.4,437.33 122.9,437.5 122.4,437.67 121.9,437.83 121.4,438 120.9,438.17 120.4,438.33 119.9,438.5 119.4,438.67 118.9,438.83 118.4,439 117.9,439.17 117.4,439.33 116.9,439.5 116.4,439.67 115.9,439.86 115.4,440.06 114.9,440.33 114.4,440.77 113.9,441.69 113.4,443.91 112.9,449.66 112.4,465" fill="url(#stripe2)"/>
<line x1="102.4" y1="388.2" x2="102.4" y2="405" stroke="#ff2020" stroke-width="0.9" />
<line x1="112.2" y1="440" x2="112.2" y2="462" stroke="#ff2020" stroke-width="0.9" />
<polygon points="124.4,388.5 124.85,396 125.31,399.52 125.76,401.97 126.22,403.99 126.67,405.74 127.12,407.3 127.58,408.67 128.03,409.89 128.49,410.97 128.94,411.93 129.4,412.79 129.85,413.54 130.3,414.21 130.76,414.81 131.21,415.34 131.67,415.81 132.12,416.22 132.58,416.59 133.03,416.92 133.48,417.21 133.94,417.47 134.39,417.7 134.85,417.9 135.3,418.08 135.3,430.2 124.4,430.2" fill="url(#stripe2)"/>
<rect x="125" y="430.2" width="10.3" height="8.0" fill="url(#stripe3)"/>
<polygon points="135.3,428.3 146.9,428.3 146.9,437 146.42,437.17 145.93,437.33 145.45,437.5 144.97,437.67 144.48,437.83 144,438 143.52,438.17 143.03,438.33 142.55,438.5 142.07,438.67 141.58,438.83 141.1,439 140.62,439.17 140.13,439.33 139.65,439.5 139.17,439.68 138.68,439.86 138.2,440.07 137.72,440.36 137.23,440.84 136.75,441.82 136.27,444.14 135.78,449.96 135.3,465" fill="url(#stripe2)"/>
<line x1="124.8" y1="388.2" x2="124.8" y2="405" stroke="#ff2020" stroke-width="0.9" />
<line x1="135.1" y1="440" x2="135.1" y2="461.5" stroke="#ff2020" stroke-width="0.9" />
<polygon points="146.9,388.5 147.32,395.65 147.74,399.1 148.16,401.48 148.58,403.43 149,405.12 149.43,406.64 149.85,407.98 150.27,409.19 150.69,410.27 151.11,411.24 151.53,412.11 151.95,412.88 152.37,413.57 152.79,414.2 153.21,414.75 153.63,415.25 154.05,415.7 154.47,416.09 154.9,416.45 155.32,416.77 155.74,417.06 156.16,417.31 156.58,417.54 157,417.75 157,430.2 146.9,430.2" fill="url(#stripe2)"/>
<rect x="147.5" y="430.2" width="9.5" height="8.0" fill="url(#stripe3)"/>
<polygon points="157,428.3 167.9,428.3 167.9,437 167.45,437.17 166.99,437.33 166.54,437.5 166.08,437.67 165.63,437.83 165.18,438 164.72,438.17 164.27,438.33 163.81,438.5 163.36,438.67 162.9,438.83 162.45,439 162,439.17 161.54,439.34 161.09,439.51 160.63,439.68 160.18,439.87 159.72,440.1 159.27,440.42 158.82,440.97 158.36,442.07 157.91,444.57 157.45,450.51 157,465" fill="url(#stripe2)"/>
<line x1="147.3" y1="388.2" x2="147.3" y2="405" stroke="#ff2020" stroke-width="0.9" />
<line x1="156.8" y1="440" x2="156.8" y2="460.5" stroke="#ff2020" stroke-width="0.9" />
<polygon points="167.9,388.5 168.33,395.69 168.75,399.16 169.18,401.54 169.6,403.5 170.03,405.2 170.45,406.72 170.88,408.07 171.3,409.28 171.72,410.36 172.15,411.33 172.57,412.19 173,412.97 173.43,413.66 173.85,414.28 174.28,414.83 174.7,415.32 175.12,415.77 175.55,416.16 175.97,416.51 176.4,416.83 176.82,417.11 177.25,417.37 177.67,417.59 178.1,417.79 178.1,430.2 167.9,430.2" fill="url(#stripe2)"/>
<rect x="168.5" y="430.2" width="9.6" height="8.0" fill="url(#stripe3)"/>
<polygon points="178.1,428.3 188.5,428.3 188.5,437 188.07,437.17 187.63,437.33 187.2,437.5 186.77,437.67 186.33,437.83 185.9,438 185.47,438.17 185.03,438.33 184.6,438.5 184.17,438.67 183.73,438.83 183.3,439 182.87,439.17 182.43,439.34 182,439.51 181.57,439.69 181.13,439.89 180.7,440.13 180.27,440.48 179.83,441.08 179.4,442.28 178.97,444.91 178.53,450.92 178.1,465" fill="url(#stripe2)"/>
<line x1="168.3" y1="388.2" x2="168.3" y2="405" stroke="#ff2020" stroke-width="0.9" />
<line x1="177.9" y1="440" x2="177.9" y2="462.5" stroke="#ff2020" stroke-width="0.9" />
<polygon points="188.5,388.5 188.91,395.55 189.32,399 189.74,401.35 190.15,403.28 190.56,404.97 190.97,406.46 191.39,407.81 191.8,409.01 192.21,410.09 192.62,411.06 193.04,411.93 193.45,412.7 193.86,413.4 194.28,414.03 194.69,414.59 195.1,415.1 195.51,415.55 195.93,415.96 196.34,416.32 196.75,416.65 197.16,416.94 197.58,417.21 197.99,417.44 198.4,417.65 198.4,430.2 188.5,430.2" fill="url(#stripe2)"/>
<rect x="189.1" y="430.2" width="9.3" height="8.0" fill="url(#stripe3)"/>
<polygon points="198.4,428.3 208.5,428.3 208.5,437 208.08,437.17 207.66,437.33 207.24,437.5 206.82,437.67 206.4,437.83 205.97,438 205.55,438.17 205.13,438.33 204.71,438.5 204.29,438.67 203.87,438.83 203.45,439 203.03,439.17 202.61,439.34 202.19,439.51 201.77,439.7 201.35,439.9 200.93,440.15 200.5,440.52 200.08,441.16 199.66,442.42 199.24,445.12 198.82,451.18 198.4,465" fill="url(#stripe2)"/>
<line x1="188.9" y1="388.2" x2="188.9" y2="405" stroke="#ff2020" stroke-width="0.9" />
<line x1="198.2" y1="440" x2="198.2" y2="461" stroke="#ff2020" stroke-width="0.9" />
<polygon points="208.5,388.5 208.91,395.55 209.32,399 209.74,401.35 210.15,403.28 210.56,404.97 210.97,406.46 211.39,407.81 211.8,409.01 212.21,410.09 212.62,411.06 213.04,411.93 213.45,412.7 213.86,413.4 214.28,414.03 214.69,414.59 215.1,415.1 215.51,415.55 215.93,415.96 216.34,416.32 216.75,416.65 217.16,416.94 217.58,417.21 217.99,417.44 218.4,417.65 218.4,430.2 208.5,430.2" fill="url(#stripe2)"/>
<rect x="209.1" y="430.2" width="9.3" height="8.0" fill="url(#stripe3)"/>
<polygon points="218.4,428.3 230.6,428.3 230.6,437 230.09,437.17 229.58,437.33 229.07,437.5 228.57,437.67 228.06,437.83 227.55,438 227.04,438.17 226.53,438.33 226.03,438.5 225.52,438.67 225.01,438.83 224.5,439 223.99,439.17 223.48,439.33 222.97,439.5 222.47,439.67 221.96,439.85 221.45,440.05 220.94,440.32 220.43,440.74 219.93,441.64 219.42,443.81 218.91,449.52 218.4,465" fill="url(#stripe2)"/>
<line x1="208.9" y1="388.2" x2="208.9" y2="405" stroke="#ff2020" stroke-width="0.9" />
<line x1="218.2" y1="440" x2="218.2" y2="460.5" stroke="#ff2020" stroke-width="0.9" />
<polygon points="230.6,388.5 231.03,395.73 231.46,399.21 231.89,401.6 232.32,403.57 232.75,405.28 233.18,406.8 233.6,408.16 234.03,409.37 234.46,410.45 234.89,411.42 235.32,412.28 235.75,413.05 236.18,413.74 236.61,414.36 237.04,414.91 237.47,415.4 237.9,415.83 238.32,416.23 238.75,416.58 239.18,416.89 239.61,417.17 240.04,417.42 240.47,417.64 240.9,417.84 240.9,430.2 230.6,430.2" fill="url(#stripe2)"/>
<rect x="231.2" y="430.2" width="9.7" height="8.0" fill="url(#stripe3)"/>
<polygon points="240.9,428.3 253.5,428.3 253.5,437 252.97,437.17 252.45,437.33 251.93,437.5 251.4,437.67 250.88,437.83 250.35,438 249.82,438.17 249.3,438.33 248.78,438.5 248.25,438.67 247.72,438.83 247.2,439 246.68,439.17 246.15,439.33 245.62,439.5 245.1,439.67 244.58,439.85 244.05,440.04 243.53,440.29 243,440.69 242.47,441.53 241.95,443.61 241.43,449.23 240.9,465" fill="url(#stripe2)"/>
<line x1="231" y1="388.2" x2="231" y2="405" stroke="#ff2020" stroke-width="0.9" />
<line x1="240.7" y1="440" x2="240.7" y2="461.5" stroke="#ff2020" stroke-width="0.9" />
<polygon points="253.5,388.5 253.93,395.78 254.37,399.26 254.8,401.66 255.23,403.64 255.67,405.36 256.1,406.89 256.53,408.25 256.97,409.46 257.4,410.54 257.83,411.51 258.27,412.37 258.7,413.14 259.13,413.82 259.57,414.43 260,414.98 260.43,415.47 260.87,415.9 261.3,416.29 261.73,416.64 262.17,416.94 262.6,417.22 263.03,417.47 263.47,417.69 263.9,417.88 263.9,430.2 253.5,430.2" fill="url(#stripe2)"/>
<rect x="254.1" y="430.2" width="9.8" height="8.0" fill="url(#stripe3)"/>
<polygon points="263.9,428.3 276.3,428.3 276.3,437 275.78,437.17 275.27,437.33 274.75,437.5 274.23,437.67 273.72,437.83 273.2,438 272.68,438.17 272.17,438.33 271.65,438.5 271.13,438.67 270.62,438.83 270.1,439 269.58,439.17 269.07,439.33 268.55,439.5 268.03,439.67 267.52,439.85 267,440.05 266.48,440.3 265.97,440.72 265.45,441.58 264.93,443.71 264.42,449.37 263.9,465" fill="url(#stripe2)"/>
<line x1="253.9" y1="388.2" x2="253.9" y2="405" stroke="#ff2020" stroke-width="0.9" />
<line x1="263.7" y1="440" x2="263.7" y2="462" stroke="#ff2020" stroke-width="0.9" />
<polygon points="276.3,388.5 276.74,395.82 277.18,399.32 277.61,401.73 278.05,403.71 278.49,405.44 278.93,406.97 279.36,408.33 279.8,409.55 280.24,410.63 280.68,411.59 281.11,412.45 281.55,413.22 281.99,413.9 282.43,414.51 282.86,415.05 283.3,415.54 283.74,415.97 284.18,416.35 284.61,416.7 285.05,417 285.49,417.27 285.93,417.51 286.36,417.73 286.8,417.92 286.8,430.2 276.3,430.2" fill="url(#stripe2)"/>
<rect x="276.9" y="430.2" width="9.9" height="8.0" fill="url(#stripe3)"/>
<polygon points="286.8,428.3 298.4,428.3 298.4,437 297.92,437.17 297.43,437.33 296.95,437.5 296.47,437.67 295.98,437.83 295.5,438 295.02,438.17 294.53,438.33 294.05,438.5 293.57,438.67 293.08,438.83 292.6,439 292.12,439.17 291.63,439.33 291.15,439.5 290.67,439.68 290.18,439.86 289.7,440.07 289.22,440.36 288.73,440.84 288.25,441.82 287.77,444.14 287.28,449.96 286.8,465" fill="url(#stripe2)"/>
<line x1="276.7" y1="388.2" x2="276.7" y2="405" stroke="#ff2020" stroke-width="0.9" />
<line x1="286.6" y1="440" x2="286.6" y2="461" stroke="#ff2020" stroke-width="0.9" />
<polygon points="298.4,388.5 298.83,395.73 299.26,399.21 299.69,401.6 300.12,403.57 300.55,405.28 300.97,406.8 301.4,408.16 301.83,409.37 302.26,410.45 302.69,411.42 303.12,412.28 303.55,413.05 303.98,413.74 304.41,414.36 304.84,414.91 305.27,415.4 305.7,415.83 306.12,416.23 306.55,416.58 306.98,416.89 307.41,417.17 307.84,417.42 308.27,417.64 308.7,417.84 308.7,430.2 298.4,430.2" fill="url(#stripe2)"/>
<rect x="299" y="430.2" width="9.7" height="8.0" fill="url(#stripe3)"/>
<polygon points="308.7,428.3 318.9,428.3 318.9,437 318.47,437.17 318.05,437.33 317.62,437.5 317.2,437.67 316.77,437.83 316.35,438 315.92,438.17 315.5,438.33 315.07,438.5 314.65,438.67 314.22,438.83 313.8,439 313.38,439.17 312.95,439.34 312.52,439.51 312.1,439.69 311.68,439.9 311.25,440.15 310.82,440.51 310.4,441.13 309.97,442.37 309.55,445.05 309.12,451.09 308.7,465" fill="url(#stripe2)"/>
<line x1="298.8" y1="388.2" x2="298.8" y2="405" stroke="#ff2020" stroke-width="0.9" />
<line x1="308.5" y1="440" x2="308.5" y2="460.8" stroke="#ff2020" stroke-width="0.9" />
<rect x="36.4" y="280.2" width="286.9" height="194.7" fill="none" stroke="#2a2a2a" stroke-width="1.2"/>
<line x1="36.4" y1="370.8" x2="323.3" y2="370.8" stroke="#2a2a2a" stroke-width="1.2" />
<line x1="54.3" y1="474.9" x2="54.3" y2="478.4" stroke="#2a2a2a" stroke-width="1.2" />
<line x1="54.3" y1="280.2" x2="54.3" y2="283.2" stroke="#2a2a2a" stroke-width="1.2" />
<line x1="54.3" y1="370.8" x2="54.3" y2="367.8" stroke="#2a2a2a" stroke-width="1.2" />
<text x="0" y="0" transform="translate(54.3,488.8) scale(0.93,1)" font-family="Liberation Sans" font-size="8.5" font-weight="normal" text-anchor="middle" fill="#1a1a1a" >0</text>
<line x1="76.71" y1="474.9" x2="76.71" y2="476.9" stroke="#2a2a2a" stroke-width="1.2" />
<line x1="76.71" y1="280.2" x2="76.71" y2="283.2" stroke="#2a2a2a" stroke-width="1.2" />
<line x1="76.71" y1="370.8" x2="76.71" y2="367.8" stroke="#2a2a2a" stroke-width="1.2" />
<line x1="99.11" y1="474.9" x2="99.11" y2="478.4" stroke="#2a2a2a" stroke-width="1.2" />
<line x1="99.11" y1="280.2" x2="99.11" y2="283.2" stroke="#2a2a2a" stroke-width="1.2" />
<line x1="99.11" y1="370.8" x2="99.11" y2="367.8" stroke="#2a2a2a" stroke-width="1.2" />
<text x="0" y="0" transform="translate(99.11,488.8) scale(0.93,1)" font-family="Liberation Sans" font-size="8.5" font-weight="normal" text-anchor="middle" fill="#1a1a1a" >50</text>
<line x1="121.52" y1="474.9" x2="121.52" y2="476.9" stroke="#2a2a2a" stroke-width="1.2" />
<line x1="121.52" y1="280.2" x2="121.52" y2="283.2" stroke="#2a2a2a" stroke-width="1.2" />
<line x1="121.52" y1="370.8" x2="121.52" y2="367.8" stroke="#2a2a2a" stroke-width="1.2" />
<line x1="143.93" y1="474.9" x2="143.93" y2="478.4" stroke="#2a2a2a" stroke-width="1.2" />
<line x1="143.93" y1="280.2" x2="143.93" y2="283.2" stroke="#2a2a2a" stroke-width="1.2" />
<line x1="143.93" y1="370.8" x2="143.93" y2="367.8" stroke="#2a2a2a" stroke-width="1.2" />
<text x="0" y="0" transform="translate(143.93,488.8) scale(0.93,1)" font-family="Liberation Sans" font-size="8.5" font-weight="normal" text-anchor="middle" fill="#1a1a1a" >100</text>
<line x1="166.34" y1="474.9" x2="166.34" y2="476.9" stroke="#2a2a2a" stroke-width="1.2" />
<line x1="166.34" y1="280.2" x2="166.34" y2="283.2" stroke="#2a2a2a" stroke-width="1.2" />
<line x1="166.34" y1="370.8" x2="166.34" y2="367.8" stroke="#2a2a2a" stroke-width="1.2" />
<line x1="188.75" y1="474.9" x2="188.75" y2="478.4" stroke="#2a2a2a" stroke-width="1.2" />
<line x1="188.75" y1="280.2" x2="188.75" y2="283.2" stroke="#2a2a2a" stroke-width="1.2" />
<line x1="188.75" y1="370.8" x2="188.75" y2="367.8" stroke="#2a2a2a" stroke-width="1.2" />
<text x="0" y="0" transform="translate(188.75,488.8) scale(0.93,1)" font-family="Liberation Sans" font-size="8.5" font-weight="normal" text-anchor="middle" fill="#1a1a1a" >150</text>
<line x1="211.15" y1="474.9" x2="211.15" y2="476.9" stroke="#2a2a2a" stroke-width="1.2" />
<line x1="211.15" y1="280.2" x2="211.15" y2="283.2" stroke="#2a2a2a" stroke-width="1.2" />
<line x1="211.15" y1="370.8" x2="211.15" y2="367.8" stroke="#2a2a2a" stroke-width="1.2" />
<line x1="233.56" y1="474.9" x2="233.56" y2="478.4" stroke="#2a2a2a" stroke-width="1.2" />
<line x1="233.56" y1="280.2" x2="233.56" y2="283.2" stroke="#2a2a2a" stroke-width="1.2" />
<line x1="233.56" y1="370.8" x2="233.56" y2="367.8" stroke="#2a2a2a" stroke-width="1.2" />
<text x="0" y="0" transform="translate(233.56,488.8) scale(0.93,1)" font-family="Liberation Sans" font-size="8.5" font-weight="normal" text-anchor="middle" fill="#1a1a1a" >200</text>
<line x1="255.97" y1="474.9" x2="255.97" y2="476.9" stroke="#2a2a2a" stroke-width="1.2" />
<line x1="255.97" y1="280.2" x2="255.97" y2="283.2" stroke="#2a2a2a" stroke-width="1.2" />
<line x1="255.97" y1="370.8" x2="255.97" y2="367.8" stroke="#2a2a2a" stroke-width="1.2" />
<line x1="278.38" y1="474.9" x2="278.38" y2="478.4" stroke="#2a2a2a" stroke-width="1.2" />
<line x1="278.38" y1="280.2" x2="278.38" y2="283.2" stroke="#2a2a2a" stroke-width="1.2" />
<line x1="278.38" y1="370.8" x2="278.38" y2="367.8" stroke="#2a2a2a" stroke-width="1.2" />
<text x="0" y="0" transform="translate(278.38,488.8) scale(0.93,1)" font-family="Liberation Sans" font-size="8.5" font-weight="normal" text-anchor="middle" fill="#1a1a1a" >250</text>
<line x1="300.78" y1="474.9" x2="300.78" y2="476.9" stroke="#2a2a2a" stroke-width="1.2" />
<line x1="300.78" y1="280.2" x2="300.78" y2="283.2" stroke="#2a2a2a" stroke-width="1.2" />
<line x1="300.78" y1="370.8" x2="300.78" y2="367.8" stroke="#2a2a2a" stroke-width="1.2" />
<line x1="323.19" y1="474.9" x2="323.19" y2="478.4" stroke="#2a2a2a" stroke-width="1.2" />
<line x1="323.19" y1="280.2" x2="323.19" y2="283.2" stroke="#2a2a2a" stroke-width="1.2" />
<line x1="323.19" y1="370.8" x2="323.19" y2="367.8" stroke="#2a2a2a" stroke-width="1.2" />
<text x="0" y="0" transform="translate(323.19,488.8) scale(0.93,1)" font-family="Liberation Sans" font-size="8.5" font-weight="normal" text-anchor="middle" fill="#1a1a1a" >300</text>
<line x1="32.9" y1="371.2" x2="36.4" y2="371.2" stroke="#2a2a2a" stroke-width="1.2" />
<line x1="319.8" y1="371.2" x2="323.3" y2="371.2" stroke="#2a2a2a" stroke-width="1.2" />
<text x="0" y="0" transform="translate(30.2,373.7) scale(0.93,1)" font-family="Liberation Sans" font-size="8.5" font-weight="normal" text-anchor="end" fill="#1a1a1a" >-3</text>
<line x1="34.4" y1="362.9" x2="36.4" y2="362.9" stroke="#2a2a2a" stroke-width="1.2" />
<line x1="321.3" y1="362.9" x2="323.3" y2="362.9" stroke="#2a2a2a" stroke-width="1.2" />
<line x1="32.9" y1="354.6" x2="36.4" y2="354.6" stroke="#2a2a2a" stroke-width="1.2" />
<line x1="319.8" y1="354.6" x2="323.3" y2="354.6" stroke="#2a2a2a" stroke-width="1.2" />
<text x="0" y="0" transform="translate(30.2,357.1) scale(0.93,1)" font-family="Liberation Sans" font-size="8.5" font-weight="normal" text-anchor="end" fill="#1a1a1a" >-2</text>
<line x1="34.4" y1="346.3" x2="36.4" y2="346.3" stroke="#2a2a2a" stroke-width="1.2" />
<line x1="321.3" y1="346.3" x2="323.3" y2="346.3" stroke="#2a2a2a" stroke-width="1.2" />
<line x1="32.9" y1="338" x2="36.4" y2="338" stroke="#2a2a2a" stroke-width="1.2" />
<line x1="319.8" y1="338" x2="323.3" y2="338" stroke="#2a2a2a" stroke-width="1.2" />
<text x="0" y="0" transform="translate(30.2,340.5) scale(0.93,1)" font-family="Liberation Sans" font-size="8.5" font-weight="normal" text-anchor="end" fill="#1a1a1a" >-1</text>
<line x1="34.4" y1="329.7" x2="36.4" y2="329.7" stroke="#2a2a2a" stroke-width="1.2" />
<line x1="321.3" y1="329.7" x2="323.3" y2="329.7" stroke="#2a2a2a" stroke-width="1.2" />
<line x1="32.9" y1="321.4" x2="36.4" y2="321.4" stroke="#2a2a2a" stroke-width="1.2" />
<line x1="319.8" y1="321.4" x2="323.3" y2="321.4" stroke="#2a2a2a" stroke-width="1.2" />
<text x="0" y="0" transform="translate(30.2,323.9) scale(0.93,1)" font-family="Liberation Sans" font-size="8.5" font-weight="normal" text-anchor="end" fill="#1a1a1a" >0</text>
<line x1="34.4" y1="313.1" x2="36.4" y2="313.1" stroke="#2a2a2a" stroke-width="1.2" />
<line x1="321.3" y1="313.1" x2="323.3" y2="313.1" stroke="#2a2a2a" stroke-width="1.2" />
<line x1="32.9" y1="304.8" x2="36.4" y2="304.8" stroke="#2a2a2a" stroke-width="1.2" />
<line x1="319.8" y1="304.8" x2="323.3" y2="304.8" stroke="#2a2a2a" stroke-width="1.2" />
<text x="0" y="0" transform="translate(30.2,307.3) scale(0.93,1)" font-family="Liberation Sans" font-size="8.5" font-weight="normal" text-anchor="end" fill="#1a1a1a" >1</text>
<line x1="34.4" y1="296.5" x2="36.4" y2="296.5" stroke="#2a2a2a" stroke-width="1.2" />
<line x1="321.3" y1="296.5" x2="323.3" y2="296.5" stroke="#2a2a2a" stroke-width="1.2" />
<line x1="32.9" y1="288.2" x2="36.4" y2="288.2" stroke="#2a2a2a" stroke-width="1.2" />
<line x1="319.8" y1="288.2" x2="323.3" y2="288.2" stroke="#2a2a2a" stroke-width="1.2" />
<text x="0" y="0" transform="translate(30.2,290.7) scale(0.93,1)" font-family="Liberation Sans" font-size="8.5" font-weight="normal" text-anchor="end" fill="#1a1a1a" >2</text>
<line x1="34.4" y1="474.2" x2="36.4" y2="474.2" stroke="#2a2a2a" stroke-width="1.2" />
<line x1="321.3" y1="474.2" x2="323.3" y2="474.2" stroke="#2a2a2a" stroke-width="1.2" />
<line x1="32.9" y1="465.22" x2="36.4" y2="465.22" stroke="#2a2a2a" stroke-width="1.2" />
<line x1="319.8" y1="465.22" x2="323.3" y2="465.22" stroke="#2a2a2a" stroke-width="1.2" />
<text x="0" y="0" transform="translate(30.2,467.72) scale(0.93,1)" font-family="Liberation Sans" font-size="8.5" font-weight="normal" text-anchor="end" fill="#1a1a1a" >-4</text>
<line x1="34.4" y1="456.24" x2="36.4" y2="456.24" stroke="#2a2a2a" stroke-width="1.2" />
<line x1="321.3" y1="456.24" x2="323.3" y2="456.24" stroke="#2a2a2a" stroke-width="1.2" />
<line x1="32.9" y1="447.26" x2="36.4" y2="447.26" stroke="#2a2a2a" stroke-width="1.2" />
<line x1="319.8" y1="447.26" x2="323.3" y2="447.26" stroke="#2a2a2a" stroke-width="1.2" />
<text x="0" y="0" transform="translate(30.2,449.76) scale(0.93,1)" font-family="Liberation Sans" font-size="8.5" font-weight="normal" text-anchor="end" fill="#1a1a1a" >-2</text>
<line x1="34.4" y1="438.28" x2="36.4" y2="438.28" stroke="#2a2a2a" stroke-width="1.2" />
<line x1="321.3" y1="438.28" x2="323.3" y2="438.28" stroke="#2a2a2a" stroke-width="1.2" />
<line x1="32.9" y1="429.3" x2="36.4" y2="429.3" stroke="#2a2a2a" stroke-width="1.2" />
<line x1="319.8" y1="429.3" x2="323.3" y2="429.3" stroke="#2a2a2a" stroke-width="1.2" />
<text x="0" y="0" transform="translate(30.2,431.8) scale(0.93,1)" font-family="Liberation Sans" font-size="8.5" font-weight="normal" text-anchor="end" fill="#1a1a1a" >0</text>
<line x1="34.4" y1="420.32" x2="36.4" y2="420.32" stroke="#2a2a2a" stroke-width="1.2" />
<line x1="321.3" y1="420.32" x2="323.3" y2="420.32" stroke="#2a2a2a" stroke-width="1.2" />
<line x1="32.9" y1="411.34" x2="36.4" y2="411.34" stroke="#2a2a2a" stroke-width="1.2" />
<line x1="319.8" y1="411.34" x2="323.3" y2="411.34" stroke="#2a2a2a" stroke-width="1.2" />
<text x="0" y="0" transform="translate(30.2,413.84) scale(0.93,1)" font-family="Liberation Sans" font-size="8.5" font-weight="normal" text-anchor="end" fill="#1a1a1a" >2</text>
<line x1="34.4" y1="402.36" x2="36.4" y2="402.36" stroke="#2a2a2a" stroke-width="1.2" />
<line x1="321.3" y1="402.36" x2="323.3" y2="402.36" stroke="#2a2a2a" stroke-width="1.2" />
<line x1="32.9" y1="393.38" x2="36.4" y2="393.38" stroke="#2a2a2a" stroke-width="1.2" />
<line x1="319.8" y1="393.38" x2="323.3" y2="393.38" stroke="#2a2a2a" stroke-width="1.2" />
<text x="0" y="0" transform="translate(30.2,395.88) scale(0.93,1)" font-family="Liberation Sans" font-size="8.5" font-weight="normal" text-anchor="end" fill="#1a1a1a" >4</text>
<line x1="34.4" y1="384.4" x2="36.4" y2="384.4" stroke="#2a2a2a" stroke-width="1.2" />
<line x1="321.3" y1="384.4" x2="323.3" y2="384.4" stroke="#2a2a2a" stroke-width="1.2" />
<text x="180" y="504.2" font-family="Liberation Sans" font-size="10.3" font-weight="normal" text-anchor="middle" fill="#1a1a1a" >Time (s)</text>
<text x="0" y="0" transform="translate(13.91,327) rotate(-90)" font-family="Liberation Sans" font-size="10.3" text-anchor="middle" fill="#1a1a1a">Voltage (V)</text>
<text x="0" y="0" transform="translate(14.51,422.7) rotate(-90)" font-family="Liberation Sans" font-size="10.3" text-anchor="middle" fill="#1a1a1a">Current (&#956;A)</text>
<text x="38" y="290.6" font-family="Liberation Sans" font-size="10" font-weight="bold" text-anchor="start" fill="#222" >(i)</text>
<text x="38.9" y="381.2" font-family="Liberation Sans" font-size="10" font-weight="bold" text-anchor="start" fill="#222" >(ii)</text>
<text x="45.4" y="359" font-family="Liberation Sans" font-size="9.7" font-weight="normal" text-anchor="start" fill="#1a1a1a" >3 Hz</text>
<rect x="389.5" y="282.4" width="276.9" height="196.9" fill="none" stroke="#2a2a2a" stroke-width="1.2"/>
<line x1="386" y1="479.33" x2="389.5" y2="479.33" stroke="#2a2a2a" stroke-width="1.2" />
<line x1="662.9" y1="479.33" x2="666.4" y2="479.33" stroke="#2a2a2a" stroke-width="1.2" />
<text x="382.5" y="481.53" font-family="Liberation Sans" font-size="7.8" font-weight="normal" text-anchor="end" fill="#1a1a1a" >-8</text>
<line x1="387.5" y1="467.02" x2="389.5" y2="467.02" stroke="#2a2a2a" stroke-width="1.2" />
<line x1="664.4" y1="467.02" x2="666.4" y2="467.02" stroke="#2a2a2a" stroke-width="1.2" />
<line x1="386" y1="454.71" x2="389.5" y2="454.71" stroke="#2a2a2a" stroke-width="1.2" />
<line x1="662.9" y1="454.71" x2="666.4" y2="454.71" stroke="#2a2a2a" stroke-width="1.2" />
<text x="382.5" y="456.91" font-family="Liberation Sans" font-size="7.8" font-weight="normal" text-anchor="end" fill="#1a1a1a" >-6</text>
<line x1="387.5" y1="442.4" x2="389.5" y2="442.4" stroke="#2a2a2a" stroke-width="1.2" />
<line x1="664.4" y1="442.4" x2="666.4" y2="442.4" stroke="#2a2a2a" stroke-width="1.2" />
<line x1="386" y1="430.09" x2="389.5" y2="430.09" stroke="#2a2a2a" stroke-width="1.2" />
<line x1="662.9" y1="430.09" x2="666.4" y2="430.09" stroke="#2a2a2a" stroke-width="1.2" />
<text x="382.5" y="432.29" font-family="Liberation Sans" font-size="7.8" font-weight="normal" text-anchor="end" fill="#1a1a1a" >-4</text>
<line x1="387.5" y1="417.78" x2="389.5" y2="417.78" stroke="#2a2a2a" stroke-width="1.2" />
<line x1="664.4" y1="417.78" x2="666.4" y2="417.78" stroke="#2a2a2a" stroke-width="1.2" />
<line x1="386" y1="405.47" x2="389.5" y2="405.47" stroke="#2a2a2a" stroke-width="1.2" />
<line x1="662.9" y1="405.47" x2="666.4" y2="405.47" stroke="#2a2a2a" stroke-width="1.2" />
<text x="382.5" y="407.67" font-family="Liberation Sans" font-size="7.8" font-weight="normal" text-anchor="end" fill="#1a1a1a" >-2</text>
<line x1="387.5" y1="393.16" x2="389.5" y2="393.16" stroke="#2a2a2a" stroke-width="1.2" />
<line x1="664.4" y1="393.16" x2="666.4" y2="393.16" stroke="#2a2a2a" stroke-width="1.2" />
<line x1="386" y1="380.85" x2="389.5" y2="380.85" stroke="#2a2a2a" stroke-width="1.2" />
<line x1="662.9" y1="380.85" x2="666.4" y2="380.85" stroke="#2a2a2a" stroke-width="1.2" />
<text x="382.5" y="383.05" font-family="Liberation Sans" font-size="7.8" font-weight="normal" text-anchor="end" fill="#1a1a1a" >0</text>
<line x1="387.5" y1="368.54" x2="389.5" y2="368.54" stroke="#2a2a2a" stroke-width="1.2" />
<line x1="664.4" y1="368.54" x2="666.4" y2="368.54" stroke="#2a2a2a" stroke-width="1.2" />
<line x1="386" y1="356.23" x2="389.5" y2="356.23" stroke="#2a2a2a" stroke-width="1.2" />
<line x1="662.9" y1="356.23" x2="666.4" y2="356.23" stroke="#2a2a2a" stroke-width="1.2" />
<text x="382.5" y="358.43" font-family="Liberation Sans" font-size="7.8" font-weight="normal" text-anchor="end" fill="#1a1a1a" >2</text>
<line x1="387.5" y1="343.92" x2="389.5" y2="343.92" stroke="#2a2a2a" stroke-width="1.2" />
<line x1="664.4" y1="343.92" x2="666.4" y2="343.92" stroke="#2a2a2a" stroke-width="1.2" />
<line x1="386" y1="331.61" x2="389.5" y2="331.61" stroke="#2a2a2a" stroke-width="1.2" />
<line x1="662.9" y1="331.61" x2="666.4" y2="331.61" stroke="#2a2a2a" stroke-width="1.2" />
<text x="382.5" y="333.81" font-family="Liberation Sans" font-size="7.8" font-weight="normal" text-anchor="end" fill="#1a1a1a" >4</text>
<line x1="387.5" y1="319.3" x2="389.5" y2="319.3" stroke="#2a2a2a" stroke-width="1.2" />
<line x1="664.4" y1="319.3" x2="666.4" y2="319.3" stroke="#2a2a2a" stroke-width="1.2" />
<line x1="386" y1="306.99" x2="389.5" y2="306.99" stroke="#2a2a2a" stroke-width="1.2" />
<line x1="662.9" y1="306.99" x2="666.4" y2="306.99" stroke="#2a2a2a" stroke-width="1.2" />
<text x="382.5" y="309.19" font-family="Liberation Sans" font-size="7.8" font-weight="normal" text-anchor="end" fill="#1a1a1a" >6</text>
<line x1="387.5" y1="294.68" x2="389.5" y2="294.68" stroke="#2a2a2a" stroke-width="1.2" />
<line x1="664.4" y1="294.68" x2="666.4" y2="294.68" stroke="#2a2a2a" stroke-width="1.2" />
<line x1="386" y1="282.37" x2="389.5" y2="282.37" stroke="#2a2a2a" stroke-width="1.2" />
<line x1="662.9" y1="282.37" x2="666.4" y2="282.37" stroke="#2a2a2a" stroke-width="1.2" />
<text x="382.5" y="284.57" font-family="Liberation Sans" font-size="7.8" font-weight="normal" text-anchor="end" fill="#1a1a1a" >8</text>
<line x1="396.5" y1="479.3" x2="396.5" y2="475.3" stroke="#2a2a2a" stroke-width="1.2" />
<line x1="396.5" y1="282.4" x2="396.5" y2="286.4" stroke="#2a2a2a" stroke-width="1.2" />
<text x="396.5" y="489.9" font-family="Liberation Sans" font-size="7.8" font-weight="normal" text-anchor="middle" fill="#1a1a1a" >0</text>
<line x1="422.71" y1="479.3" x2="422.71" y2="476.8" stroke="#2a2a2a" stroke-width="1.2" />
<line x1="422.71" y1="282.4" x2="422.71" y2="284.9" stroke="#2a2a2a" stroke-width="1.2" />
<line x1="448.92" y1="479.3" x2="448.92" y2="475.3" stroke="#2a2a2a" stroke-width="1.2" />
<line x1="448.92" y1="282.4" x2="448.92" y2="286.4" stroke="#2a2a2a" stroke-width="1.2" />
<text x="448.92" y="489.9" font-family="Liberation Sans" font-size="7.8" font-weight="normal" text-anchor="middle" fill="#1a1a1a" >20</text>
<line x1="475.13" y1="479.3" x2="475.13" y2="476.8" stroke="#2a2a2a" stroke-width="1.2" />
<line x1="475.13" y1="282.4" x2="475.13" y2="284.9" stroke="#2a2a2a" stroke-width="1.2" />
<line x1="501.34" y1="479.3" x2="501.34" y2="475.3" stroke="#2a2a2a" stroke-width="1.2" />
<line x1="501.34" y1="282.4" x2="501.34" y2="286.4" stroke="#2a2a2a" stroke-width="1.2" />
<text x="501.34" y="489.9" font-family="Liberation Sans" font-size="7.8" font-weight="normal" text-anchor="middle" fill="#1a1a1a" >40</text>
<line x1="527.55" y1="479.3" x2="527.55" y2="476.8" stroke="#2a2a2a" stroke-width="1.2" />
<line x1="527.55" y1="282.4" x2="527.55" y2="284.9" stroke="#2a2a2a" stroke-width="1.2" />
<line x1="553.76" y1="479.3" x2="553.76" y2="475.3" stroke="#2a2a2a" stroke-width="1.2" />
<line x1="553.76" y1="282.4" x2="553.76" y2="286.4" stroke="#2a2a2a" stroke-width="1.2" />
<text x="553.76" y="489.9" font-family="Liberation Sans" font-size="7.8" font-weight="normal" text-anchor="middle" fill="#1a1a1a" >60</text>
<line x1="579.97" y1="479.3" x2="579.97" y2="476.8" stroke="#2a2a2a" stroke-width="1.2" />
<line x1="579.97" y1="282.4" x2="579.97" y2="284.9" stroke="#2a2a2a" stroke-width="1.2" />
<line x1="606.18" y1="479.3" x2="606.18" y2="475.3" stroke="#2a2a2a" stroke-width="1.2" />
<line x1="606.18" y1="282.4" x2="606.18" y2="286.4" stroke="#2a2a2a" stroke-width="1.2" />
<text x="606.18" y="489.9" font-family="Liberation Sans" font-size="7.8" font-weight="normal" text-anchor="middle" fill="#1a1a1a" >80</text>
<line x1="632.39" y1="479.3" x2="632.39" y2="476.8" stroke="#2a2a2a" stroke-width="1.2" />
<line x1="632.39" y1="282.4" x2="632.39" y2="284.9" stroke="#2a2a2a" stroke-width="1.2" />
<line x1="658.6" y1="479.3" x2="658.6" y2="475.3" stroke="#2a2a2a" stroke-width="1.2" />
<line x1="658.6" y1="282.4" x2="658.6" y2="286.4" stroke="#2a2a2a" stroke-width="1.2" />
<text x="658.6" y="489.9" font-family="Liberation Sans" font-size="7.8" font-weight="normal" text-anchor="middle" fill="#1a1a1a" >100</text>
<text x="528.3" y="505.7" font-family="Liberation Sans" font-size="9.7" font-weight="normal" text-anchor="middle" fill="#1a1a1a" >Cycles</text>
<text x="0" y="0" transform="translate(368.11,387.6) rotate(-90)" font-family="Liberation Sans" font-size="10.3" text-anchor="middle" fill="#1a1a1a">Current (&#956;A)</text>
<text x="413.6" y="311.3" font-family="Liberation Sans" font-size="9.7" font-weight="normal" text-anchor="start" fill="#1a1a1a" >Positive Peak Current</text>
<text x="411.5" y="444.8" font-family="Liberation Sans" font-size="9.7" font-weight="normal" text-anchor="start" fill="#1a1a1a" >Negative Peak Current</text>
<text x="563" y="313.9" font-family="Liberation Serif" font-size="9.5" fill="#222">&#948;<tspan font-size="5.5" dy="3.4">P</tspan><tspan dy="-3.4">=0.0197</tspan></text>
<text x="571.7" y="447.8" font-family="Liberation Serif" font-size="9.5" fill="#222">&#948;<tspan font-size="5.5" dy="3.4">N</tspan><tspan dy="-3.4">=0.0312</tspan></text>
<path d="M397.7,324.66 L400.8,330.11 L394.6,330.11 Z M400.33,324.13 L403.43,329.59 L397.23,329.59 Z M402.96,322.45 L406.06,327.91 L399.87,327.91 Z M405.6,322.63 L408.69,328.08 L402.5,328.08 Z M408.23,321.29 L411.33,326.75 L405.13,326.75 Z M410.86,321.05 L413.96,326.51 L407.76,326.51 Z M413.49,321.05 L416.59,326.51 L410.39,326.51 Z M416.12,319.78 L419.22,325.24 L413.03,325.24 Z M418.76,320.1 L421.85,325.56 L415.66,325.56 Z M421.39,318.93 L424.49,324.38 L418.29,324.38 Z M424.02,325.21 L427.12,330.67 L420.92,330.67 Z M426.65,323.72 L429.75,329.18 L423.55,329.18 Z M429.28,322.97 L432.38,328.43 L426.19,328.43 Z M431.92,325.21 L435.01,330.67 L428.82,330.67 Z M434.55,322.23 L437.65,327.69 L431.45,327.69 Z M437.18,321.44 L440.28,326.9 L434.08,326.9 Z M439.81,320.13 L442.91,325.59 L436.71,325.59 Z M442.44,319.38 L445.54,324.83 L439.35,324.83 Z M445.08,322.14 L448.17,327.6 L441.98,327.6 Z M447.71,322.5 L450.81,327.96 L444.61,327.96 Z M450.34,321.55 L453.44,327.01 L447.24,327.01 Z M452.97,323.2 L456.07,328.66 L449.87,328.66 Z M455.6,321.85 L458.7,327.31 L452.51,327.31 Z M458.24,322.74 L461.33,328.2 L455.14,328.2 Z M460.87,325.21 L463.97,330.67 L457.77,330.67 Z M463.5,321.76 L466.6,327.22 L460.4,327.22 Z M466.13,320.6 L469.23,326.05 L463.03,326.05 Z M468.76,318.88 L471.86,324.34 L465.67,324.34 Z M471.4,325.21 L474.49,330.67 L468.3,330.67 Z M474.03,322.98 L477.13,328.44 L470.93,328.44 Z M476.66,322.88 L479.76,328.34 L473.56,328.34 Z M479.29,323.34 L482.39,328.8 L476.19,328.8 Z M481.92,322.81 L485.02,328.26 L478.83,328.26 Z M484.56,323.26 L487.65,328.72 L481.46,328.72 Z M487.19,322.85 L490.29,328.31 L484.09,328.31 Z M489.82,322.18 L492.92,327.64 L486.72,327.64 Z M492.45,320.95 L495.55,326.4 L489.35,326.4 Z M495.08,320.97 L498.18,326.42 L491.99,326.42 Z M497.72,320.75 L500.81,326.2 L494.62,326.2 Z M500.35,319.86 L503.45,325.32 L497.25,325.32 Z M502.98,319.67 L506.08,325.13 L499.88,325.13 Z M505.61,323.47 L508.71,328.92 L502.51,328.92 Z M508.24,325.21 L511.34,330.67 L505.15,330.67 Z M510.88,325.21 L513.97,330.67 L507.78,330.67 Z M513.51,324.79 L516.61,330.25 L510.41,330.25 Z M516.14,321.49 L519.24,326.95 L513.04,326.95 Z M518.77,320.15 L521.87,325.61 L515.67,325.61 Z M521.4,321.86 L524.5,327.32 L518.31,327.32 Z M524.04,322.11 L527.13,327.57 L520.94,327.57 Z M526.67,322.87 L529.77,328.33 L523.57,328.33 Z M529.3,320.87 L532.4,326.33 L526.2,326.33 Z M531.93,321.56 L535.03,327.02 L528.83,327.02 Z M534.56,320.24 L537.66,325.7 L531.47,325.7 Z M537.2,318.85 L540.29,324.31 L534.1,324.31 Z M539.83,320.98 L542.93,326.44 L536.73,326.44 Z M542.46,325.21 L545.56,330.67 L539.36,330.67 Z M545.09,323.91 L548.19,329.37 L541.99,329.37 Z M547.72,322.83 L550.82,328.29 L544.63,328.29 Z M550.36,322.66 L553.45,328.12 L547.26,328.12 Z M552.99,322.76 L556.09,328.22 L549.89,328.22 Z M555.62,321.86 L558.72,327.32 L552.52,327.32 Z M558.25,322.2 L561.35,327.66 L555.15,327.66 Z M560.88,320.92 L563.98,326.37 L557.79,326.37 Z M563.52,320.46 L566.61,325.92 L560.42,325.92 Z M566.15,319.86 L569.25,325.32 L563.05,325.32 Z M568.78,319.45 L571.88,324.91 L565.68,324.91 Z M571.41,319.15 L574.51,324.61 L568.31,324.61 Z M574.04,325.21 L577.14,330.67 L570.95,330.67 Z M576.68,323.42 L579.77,328.88 L573.58,328.88 Z M579.31,322.84 L582.41,328.3 L576.21,328.3 Z M581.94,323.88 L585.04,329.34 L578.84,329.34 Z M584.57,322.77 L587.67,328.23 L581.47,328.23 Z M587.2,322.87 L590.3,328.32 L584.11,328.32 Z M589.84,322.27 L592.93,327.73 L586.74,327.73 Z M592.47,322.57 L595.57,328.02 L589.37,328.02 Z M595.1,321.34 L598.2,326.79 L592,326.79 Z M597.73,322.12 L600.83,327.58 L594.63,327.58 Z M600.36,325.21 L603.46,330.67 L597.27,330.67 Z M603,322.82 L606.09,328.28 L599.9,328.28 Z M605.63,319.92 L608.73,325.38 L602.53,325.38 Z M608.26,320.92 L611.36,326.38 L605.16,326.38 Z M610.89,321.98 L613.99,327.44 L607.79,327.44 Z M613.52,322.32 L616.62,327.78 L610.43,327.78 Z M616.16,321.33 L619.25,326.79 L613.06,326.79 Z M618.79,322.81 L621.89,328.27 L615.69,328.27 Z M621.42,322.94 L624.52,328.4 L618.32,328.4 Z M624.05,322.69 L627.15,328.15 L620.95,328.15 Z M626.68,321.86 L629.78,327.32 L623.59,327.32 Z M629.32,323.23 L632.41,328.69 L626.22,328.69 Z M631.95,322.59 L635.05,328.05 L628.85,328.05 Z M634.58,322.42 L637.68,327.88 L631.48,327.88 Z M637.21,321.84 L640.31,327.3 L634.11,327.3 Z M639.84,321.95 L642.94,327.41 L636.75,327.41 Z M642.48,321 L645.57,326.46 L639.38,326.46 Z M645.11,320.54 L648.21,326 L642.01,326 Z M647.74,321.23 L650.84,326.69 L644.64,326.69 Z M650.37,324.02 L653.47,329.48 L647.27,329.48 Z M653,325.21 L656.1,330.67 L649.91,330.67 Z M655.64,323.37 L658.73,328.83 L652.54,328.83 Z M658.27,325.21 L661.37,330.67 L655.17,330.67 Z M397.7,425.29 L400.8,430.75 L394.6,430.75 Z M400.33,420.63 L403.43,426.09 L397.23,426.09 Z M402.96,420.73 L406.06,426.19 L399.87,426.19 Z M405.6,420.59 L408.69,426.05 L402.5,426.05 Z M408.23,420.59 L411.33,426.05 L405.13,426.05 Z M410.86,421.01 L413.96,426.47 L407.76,426.47 Z M413.49,421.37 L416.59,426.83 L410.39,426.83 Z M416.12,421.06 L419.22,426.52 L413.03,426.52 Z M418.76,421.73 L421.85,427.19 L415.66,427.19 Z M421.39,422.15 L424.49,427.61 L418.29,427.61 Z M424.02,420.95 L427.12,426.41 L420.92,426.41 Z M426.65,419.87 L429.75,425.33 L423.55,425.33 Z M429.28,425.29 L432.38,430.75 L426.19,430.75 Z M431.92,419.54 L435.01,424.99 L428.82,424.99 Z M434.55,419.66 L437.65,425.12 L431.45,425.12 Z M437.18,420.39 L440.28,425.85 L434.08,425.85 Z M439.81,419.68 L442.91,425.13 L436.71,425.13 Z M442.44,419.91 L445.54,425.37 L439.35,425.37 Z M445.08,419.94 L448.17,425.39 L441.98,425.39 Z M447.71,420.13 L450.81,425.59 L444.61,425.59 Z M450.34,420.65 L453.44,426.1 L447.24,426.1 Z M452.97,420.76 L456.07,426.21 L449.87,426.21 Z M455.6,421.16 L458.7,426.62 L452.51,426.62 Z M458.24,420.76 L461.33,426.22 L455.14,426.22 Z M460.87,425.29 L463.97,430.75 L457.77,430.75 Z M463.5,421.41 L466.6,426.87 L460.4,426.87 Z M466.13,423.45 L469.23,428.9 L463.03,428.9 Z M468.76,423.45 L471.86,428.9 L465.67,428.9 Z M471.4,419 L474.49,424.46 L468.3,424.46 Z M474.03,419.66 L477.13,425.11 L470.93,425.11 Z M476.66,425.29 L479.76,430.75 L473.56,430.75 Z M479.29,420.88 L482.39,426.34 L476.19,426.34 Z M481.92,421.09 L485.02,426.55 L478.83,426.55 Z M484.56,425.29 L487.65,430.75 L481.46,430.75 Z M487.19,421.51 L490.29,426.97 L484.09,426.97 Z M489.82,420.87 L492.92,426.33 L486.72,426.33 Z M492.45,421.32 L495.55,426.78 L489.35,426.78 Z M495.08,421.98 L498.18,427.43 L491.99,427.43 Z M497.72,422.07 L500.81,427.53 L494.62,427.53 Z M500.35,422.17 L503.45,427.63 L497.25,427.63 Z M502.98,422.35 L506.08,427.81 L499.88,427.81 Z M505.61,421.36 L508.71,426.81 L502.51,426.81 Z M508.24,420.5 L511.34,425.96 L505.15,425.96 Z M510.88,420.21 L513.97,425.67 L507.78,425.67 Z M513.51,425.29 L516.61,430.75 L510.41,430.75 Z M516.14,420.43 L519.24,425.89 L513.04,425.89 Z M518.77,423.45 L521.87,428.9 L515.67,428.9 Z M521.4,419.27 L524.5,424.72 L518.31,424.72 Z M524.04,419.12 L527.13,424.58 L520.94,424.58 Z M526.67,419.93 L529.77,425.38 L523.57,425.38 Z M529.3,420.1 L532.4,425.56 L526.2,425.56 Z M531.93,421.49 L535.03,426.95 L528.83,426.95 Z M534.56,422.07 L537.66,427.53 L531.47,427.53 Z M537.2,421.16 L540.29,426.61 L534.1,426.61 Z M539.83,421.57 L542.93,427.03 L536.73,427.03 Z M542.46,421.9 L545.56,427.36 L539.36,427.36 Z M545.09,421.34 L548.19,426.8 L541.99,426.8 Z M547.72,421.68 L550.82,427.14 L544.63,427.14 Z M550.36,421.02 L553.45,426.48 L547.26,426.48 Z M552.99,425.29 L556.09,430.75 L549.89,430.75 Z M555.62,420.13 L558.72,425.59 L552.52,425.59 Z M558.25,420.37 L561.35,425.82 L555.15,425.82 Z M560.88,421.11 L563.98,426.57 L557.79,426.57 Z M563.52,421.33 L566.61,426.79 L560.42,426.79 Z M566.15,421.84 L569.25,427.3 L563.05,427.3 Z M568.78,421.57 L571.88,427.02 L565.68,427.02 Z M571.41,423.45 L574.51,428.9 L568.31,428.9 Z M574.04,419.67 L577.14,425.13 L570.95,425.13 Z M576.68,418.69 L579.77,424.15 L573.58,424.15 Z M579.31,418.8 L582.41,424.25 L576.21,424.25 Z M581.94,425.29 L585.04,430.75 L578.84,430.75 Z M584.57,418.82 L587.67,424.28 L581.47,424.28 Z M587.2,419.47 L590.3,424.93 L584.11,424.93 Z M589.84,425.29 L592.93,430.75 L586.74,430.75 Z M592.47,419.93 L595.57,425.39 L589.37,425.39 Z M595.1,420.07 L598.2,425.53 L592,425.53 Z M597.73,420.42 L600.83,425.88 L594.63,425.88 Z M600.36,425.29 L603.46,430.75 L597.27,430.75 Z M603,419.98 L606.09,425.43 L599.9,425.43 Z M605.63,420.22 L608.73,425.68 L602.53,425.68 Z M608.26,420.22 L611.36,425.68 L605.16,425.68 Z M610.89,419.97 L613.99,425.43 L607.79,425.43 Z M613.52,425.29 L616.62,430.75 L610.43,430.75 Z M616.16,419.56 L619.25,425.02 L613.06,425.02 Z M618.79,419.3 L621.89,424.76 L615.69,424.76 Z M621.42,425.29 L624.52,430.75 L618.32,430.75 Z M624.05,418.87 L627.15,424.33 L620.95,424.33 Z M626.68,418.66 L629.78,424.12 L623.59,424.12 Z M629.32,418.69 L632.41,424.15 L626.22,424.15 Z M631.95,425.29 L635.05,430.75 L628.85,430.75 Z M634.58,419.79 L637.68,425.25 L631.48,425.25 Z M637.21,420.02 L640.31,425.48 L634.11,425.48 Z M639.84,425.29 L642.94,430.75 L636.75,430.75 Z M642.48,420.05 L645.57,425.5 L639.38,425.5 Z M645.11,419.6 L648.21,425.06 L642.01,425.06 Z M647.74,419.17 L650.84,424.63 L644.64,424.63 Z M650.37,425.29 L653.47,430.75 L647.27,430.75 Z M653,419.27 L656.1,424.73 L649.91,424.73 Z M655.64,419.13 L658.73,424.59 L652.54,424.59 Z M658.27,425.29 L661.37,430.75 L655.17,430.75 Z" fill="#0000ff"/>
</svg>
</body></html>
